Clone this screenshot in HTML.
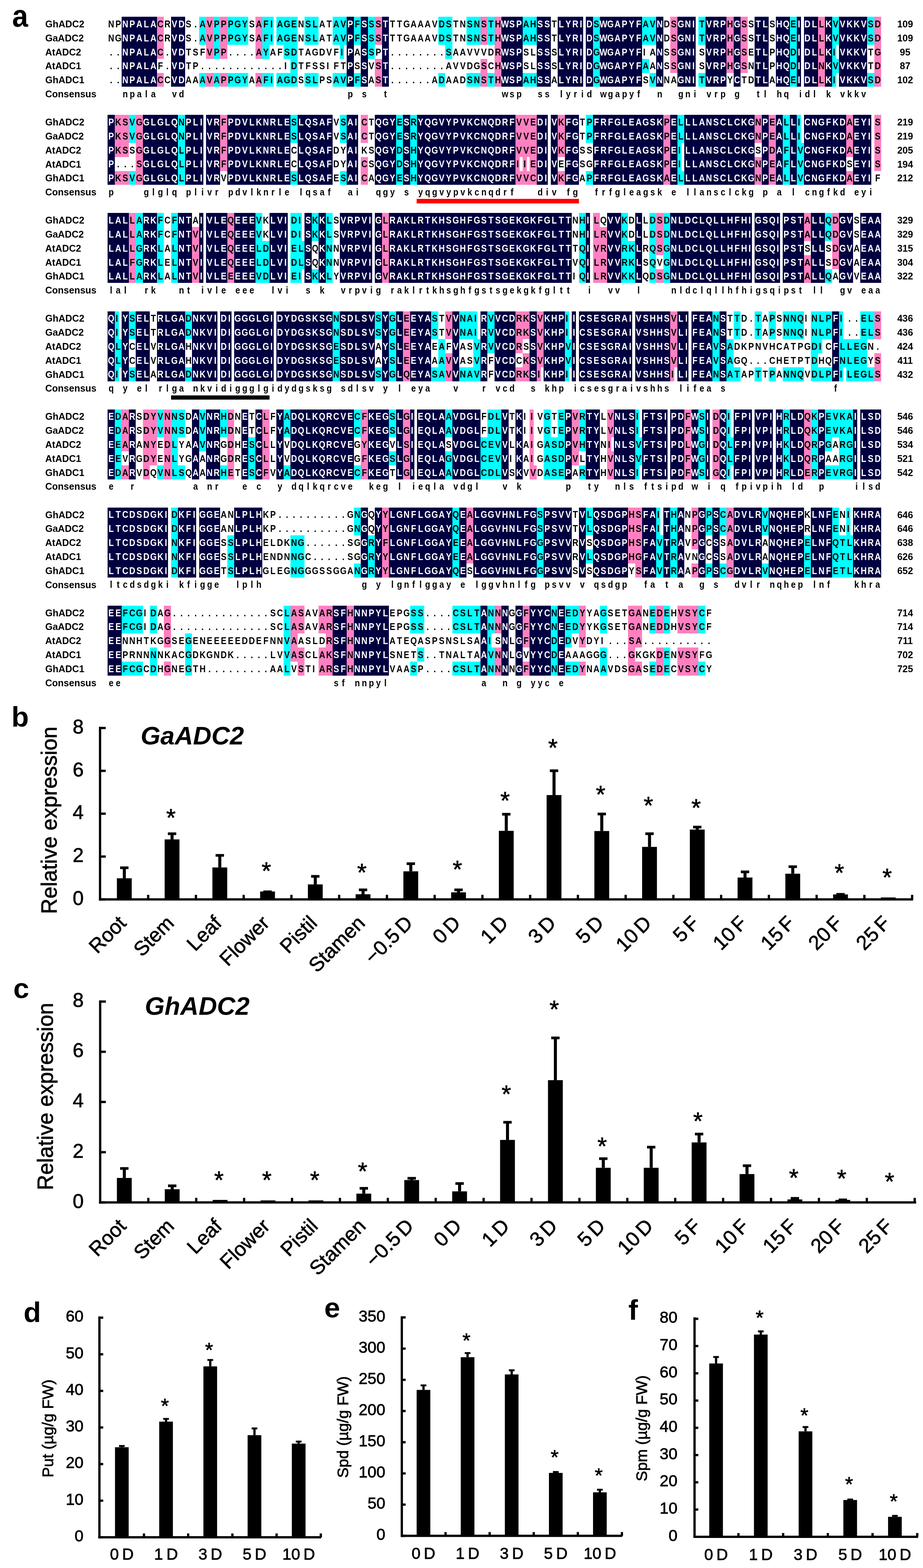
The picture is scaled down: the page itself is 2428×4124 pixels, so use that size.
<!DOCTYPE html><html><head><meta charset="utf-8"><title>ADC figure</title><style>html,body{margin:0;padding:0;background:#fff}svg{display:block}</style></head><body>
<svg width="2428" height="4124" viewBox="0 0 2428 4124">
<rect width="100%" height="100%" fill="#fff"/>
<g id="aln">
<g fill="#000040" shape-rendering="crispEdges">
<rect x="320" y="44" width="93" height="37"/>
<rect x="450" y="44" width="37" height="37"/>
<rect x="912" y="44" width="19" height="37"/>
<rect x="949" y="44" width="19" height="37"/>
<rect x="1005" y="44" width="18" height="37"/>
<rect x="1319" y="44" width="56" height="37"/>
<rect x="1412" y="44" width="37" height="37"/>
<rect x="1467" y="44" width="67" height="37"/>
<rect x="1541" y="44" width="19" height="37"/>
<rect x="1578" y="44" width="111" height="37"/>
<rect x="1726" y="44" width="19" height="37"/>
<rect x="1782" y="44" width="48" height="37"/>
<rect x="1856" y="44" width="55" height="37"/>
<rect x="1930" y="44" width="18" height="37"/>
<rect x="1985" y="44" width="37" height="37"/>
<rect x="2041" y="44" width="37" height="37"/>
<rect x="2096" y="44" width="11" height="37"/>
<rect x="2115" y="44" width="37" height="37"/>
<rect x="2170" y="44" width="19" height="37"/>
<rect x="2207" y="44" width="74" height="37"/>
<rect x="320" y="81" width="93" height="37"/>
<rect x="450" y="81" width="37" height="37"/>
<rect x="912" y="81" width="19" height="37"/>
<rect x="949" y="81" width="19" height="37"/>
<rect x="1005" y="81" width="18" height="37"/>
<rect x="1319" y="81" width="56" height="37"/>
<rect x="1412" y="81" width="37" height="37"/>
<rect x="1467" y="81" width="67" height="37"/>
<rect x="1541" y="81" width="19" height="37"/>
<rect x="1578" y="81" width="111" height="37"/>
<rect x="1726" y="81" width="19" height="37"/>
<rect x="1782" y="81" width="48" height="37"/>
<rect x="1856" y="81" width="55" height="37"/>
<rect x="1930" y="81" width="18" height="37"/>
<rect x="1985" y="81" width="37" height="37"/>
<rect x="2041" y="81" width="37" height="37"/>
<rect x="2096" y="81" width="11" height="37"/>
<rect x="2115" y="81" width="37" height="37"/>
<rect x="2170" y="81" width="19" height="37"/>
<rect x="2207" y="81" width="74" height="37"/>
<rect x="320" y="118" width="93" height="37"/>
<rect x="450" y="118" width="37" height="37"/>
<rect x="912" y="118" width="19" height="37"/>
<rect x="949" y="118" width="19" height="37"/>
<rect x="1005" y="118" width="18" height="37"/>
<rect x="1319" y="118" width="56" height="37"/>
<rect x="1412" y="118" width="37" height="37"/>
<rect x="1467" y="118" width="67" height="37"/>
<rect x="1541" y="118" width="19" height="37"/>
<rect x="1578" y="118" width="111" height="37"/>
<rect x="1726" y="118" width="19" height="37"/>
<rect x="1782" y="118" width="48" height="37"/>
<rect x="1856" y="118" width="55" height="37"/>
<rect x="1930" y="118" width="18" height="37"/>
<rect x="1985" y="118" width="37" height="37"/>
<rect x="2041" y="118" width="37" height="37"/>
<rect x="2096" y="118" width="11" height="37"/>
<rect x="2115" y="118" width="37" height="37"/>
<rect x="2170" y="118" width="19" height="37"/>
<rect x="2207" y="118" width="74" height="37"/>
<rect x="320" y="155" width="93" height="37"/>
<rect x="450" y="155" width="37" height="37"/>
<rect x="912" y="155" width="19" height="37"/>
<rect x="949" y="155" width="19" height="37"/>
<rect x="1005" y="155" width="18" height="37"/>
<rect x="1319" y="155" width="56" height="37"/>
<rect x="1412" y="155" width="37" height="37"/>
<rect x="1467" y="155" width="67" height="37"/>
<rect x="1541" y="155" width="19" height="37"/>
<rect x="1578" y="155" width="111" height="37"/>
<rect x="1726" y="155" width="19" height="37"/>
<rect x="1782" y="155" width="48" height="37"/>
<rect x="1856" y="155" width="55" height="37"/>
<rect x="1930" y="155" width="18" height="37"/>
<rect x="1985" y="155" width="37" height="37"/>
<rect x="2041" y="155" width="37" height="37"/>
<rect x="2096" y="155" width="11" height="37"/>
<rect x="2115" y="155" width="37" height="37"/>
<rect x="2170" y="155" width="19" height="37"/>
<rect x="2207" y="155" width="74" height="37"/>
<rect x="320" y="192" width="93" height="36"/>
<rect x="450" y="192" width="37" height="36"/>
<rect x="912" y="192" width="19" height="36"/>
<rect x="949" y="192" width="19" height="36"/>
<rect x="1005" y="192" width="18" height="36"/>
<rect x="1319" y="192" width="56" height="36"/>
<rect x="1412" y="192" width="37" height="36"/>
<rect x="1467" y="192" width="67" height="36"/>
<rect x="1541" y="192" width="19" height="36"/>
<rect x="1578" y="192" width="111" height="36"/>
<rect x="1726" y="192" width="19" height="36"/>
<rect x="1782" y="192" width="48" height="36"/>
<rect x="1856" y="192" width="55" height="36"/>
<rect x="1930" y="192" width="18" height="36"/>
<rect x="1985" y="192" width="37" height="36"/>
<rect x="2041" y="192" width="37" height="36"/>
<rect x="2096" y="192" width="11" height="36"/>
<rect x="2115" y="192" width="37" height="36"/>
<rect x="2170" y="192" width="19" height="36"/>
<rect x="2207" y="192" width="74" height="36"/>
<rect x="283" y="302" width="19" height="37"/>
<rect x="376" y="302" width="92" height="37"/>
<rect x="487" y="302" width="48" height="37"/>
<rect x="542" y="302" width="37" height="37"/>
<rect x="598" y="302" width="166" height="37"/>
<rect x="783" y="302" width="92" height="37"/>
<rect x="912" y="302" width="30" height="37"/>
<rect x="986" y="302" width="56" height="37"/>
<rect x="1060" y="302" width="19" height="37"/>
<rect x="1097" y="302" width="259" height="37"/>
<rect x="1412" y="302" width="29" height="37"/>
<rect x="1449" y="302" width="18" height="37"/>
<rect x="1486" y="302" width="37" height="37"/>
<rect x="1560" y="302" width="185" height="37"/>
<rect x="1763" y="302" width="19" height="37"/>
<rect x="1800" y="302" width="185" height="37"/>
<rect x="2004" y="302" width="18" height="37"/>
<rect x="2041" y="302" width="18" height="37"/>
<rect x="2078" y="302" width="18" height="37"/>
<rect x="2115" y="302" width="111" height="37"/>
<rect x="2244" y="302" width="48" height="37"/>
<rect x="283" y="339" width="19" height="37"/>
<rect x="376" y="339" width="92" height="37"/>
<rect x="487" y="339" width="48" height="37"/>
<rect x="542" y="339" width="37" height="37"/>
<rect x="598" y="339" width="166" height="37"/>
<rect x="783" y="339" width="92" height="37"/>
<rect x="912" y="339" width="30" height="37"/>
<rect x="986" y="339" width="56" height="37"/>
<rect x="1060" y="339" width="19" height="37"/>
<rect x="1097" y="339" width="259" height="37"/>
<rect x="1412" y="339" width="29" height="37"/>
<rect x="1449" y="339" width="18" height="37"/>
<rect x="1486" y="339" width="37" height="37"/>
<rect x="1560" y="339" width="185" height="37"/>
<rect x="1763" y="339" width="19" height="37"/>
<rect x="1800" y="339" width="185" height="37"/>
<rect x="2004" y="339" width="18" height="37"/>
<rect x="2041" y="339" width="18" height="37"/>
<rect x="2078" y="339" width="18" height="37"/>
<rect x="2115" y="339" width="111" height="37"/>
<rect x="2244" y="339" width="48" height="37"/>
<rect x="283" y="376" width="19" height="37"/>
<rect x="376" y="376" width="92" height="37"/>
<rect x="487" y="376" width="48" height="37"/>
<rect x="542" y="376" width="37" height="37"/>
<rect x="598" y="376" width="166" height="37"/>
<rect x="783" y="376" width="92" height="37"/>
<rect x="912" y="376" width="30" height="37"/>
<rect x="986" y="376" width="56" height="37"/>
<rect x="1060" y="376" width="19" height="37"/>
<rect x="1097" y="376" width="259" height="37"/>
<rect x="1412" y="376" width="29" height="37"/>
<rect x="1449" y="376" width="18" height="37"/>
<rect x="1486" y="376" width="37" height="37"/>
<rect x="1560" y="376" width="185" height="37"/>
<rect x="1763" y="376" width="19" height="37"/>
<rect x="1800" y="376" width="185" height="37"/>
<rect x="2004" y="376" width="18" height="37"/>
<rect x="2041" y="376" width="18" height="37"/>
<rect x="2078" y="376" width="18" height="37"/>
<rect x="2115" y="376" width="111" height="37"/>
<rect x="2244" y="376" width="48" height="37"/>
<rect x="283" y="413" width="19" height="37"/>
<rect x="376" y="413" width="92" height="37"/>
<rect x="487" y="413" width="48" height="37"/>
<rect x="542" y="413" width="37" height="37"/>
<rect x="598" y="413" width="166" height="37"/>
<rect x="783" y="413" width="92" height="37"/>
<rect x="912" y="413" width="30" height="37"/>
<rect x="986" y="413" width="56" height="37"/>
<rect x="1060" y="413" width="19" height="37"/>
<rect x="1097" y="413" width="259" height="37"/>
<rect x="1412" y="413" width="29" height="37"/>
<rect x="1449" y="413" width="18" height="37"/>
<rect x="1486" y="413" width="37" height="37"/>
<rect x="1560" y="413" width="185" height="37"/>
<rect x="1763" y="413" width="19" height="37"/>
<rect x="1800" y="413" width="185" height="37"/>
<rect x="2004" y="413" width="18" height="37"/>
<rect x="2041" y="413" width="18" height="37"/>
<rect x="2078" y="413" width="18" height="37"/>
<rect x="2115" y="413" width="111" height="37"/>
<rect x="2244" y="413" width="48" height="37"/>
<rect x="283" y="450" width="19" height="36"/>
<rect x="376" y="450" width="92" height="36"/>
<rect x="487" y="450" width="48" height="36"/>
<rect x="542" y="450" width="37" height="36"/>
<rect x="598" y="450" width="166" height="36"/>
<rect x="783" y="450" width="92" height="36"/>
<rect x="912" y="450" width="30" height="36"/>
<rect x="986" y="450" width="56" height="36"/>
<rect x="1060" y="450" width="19" height="36"/>
<rect x="1097" y="450" width="259" height="36"/>
<rect x="1412" y="450" width="29" height="36"/>
<rect x="1449" y="450" width="18" height="36"/>
<rect x="1486" y="450" width="37" height="36"/>
<rect x="1560" y="450" width="185" height="36"/>
<rect x="1763" y="450" width="19" height="36"/>
<rect x="1800" y="450" width="185" height="36"/>
<rect x="2004" y="450" width="18" height="36"/>
<rect x="2041" y="450" width="18" height="36"/>
<rect x="2078" y="450" width="18" height="36"/>
<rect x="2115" y="450" width="111" height="36"/>
<rect x="2244" y="450" width="48" height="36"/>
<rect x="283" y="560" width="56" height="37"/>
<rect x="376" y="560" width="37" height="37"/>
<rect x="468" y="560" width="37" height="37"/>
<rect x="524" y="560" width="11" height="37"/>
<rect x="542" y="560" width="56" height="37"/>
<rect x="616" y="560" width="56" height="37"/>
<rect x="709" y="560" width="48" height="37"/>
<rect x="801" y="560" width="19" height="37"/>
<rect x="838" y="560" width="19" height="37"/>
<rect x="894" y="560" width="85" height="37"/>
<rect x="986" y="560" width="19" height="37"/>
<rect x="1023" y="560" width="481" height="37"/>
<rect x="1541" y="560" width="11" height="37"/>
<rect x="1597" y="560" width="37" height="37"/>
<rect x="1671" y="560" width="18" height="37"/>
<rect x="1763" y="560" width="215" height="37"/>
<rect x="1985" y="560" width="67" height="37"/>
<rect x="2059" y="560" width="56" height="37"/>
<rect x="2133" y="560" width="37" height="37"/>
<rect x="2207" y="560" width="37" height="37"/>
<rect x="2263" y="560" width="55" height="37"/>
<rect x="283" y="597" width="56" height="37"/>
<rect x="376" y="597" width="37" height="37"/>
<rect x="468" y="597" width="37" height="37"/>
<rect x="524" y="597" width="11" height="37"/>
<rect x="542" y="597" width="56" height="37"/>
<rect x="616" y="597" width="56" height="37"/>
<rect x="709" y="597" width="48" height="37"/>
<rect x="801" y="597" width="19" height="37"/>
<rect x="838" y="597" width="19" height="37"/>
<rect x="894" y="597" width="85" height="37"/>
<rect x="986" y="597" width="19" height="37"/>
<rect x="1023" y="597" width="481" height="37"/>
<rect x="1541" y="597" width="11" height="37"/>
<rect x="1597" y="597" width="37" height="37"/>
<rect x="1671" y="597" width="18" height="37"/>
<rect x="1763" y="597" width="215" height="37"/>
<rect x="1985" y="597" width="67" height="37"/>
<rect x="2059" y="597" width="56" height="37"/>
<rect x="2133" y="597" width="37" height="37"/>
<rect x="2207" y="597" width="37" height="37"/>
<rect x="2263" y="597" width="55" height="37"/>
<rect x="283" y="634" width="56" height="37"/>
<rect x="376" y="634" width="37" height="37"/>
<rect x="468" y="634" width="37" height="37"/>
<rect x="524" y="634" width="11" height="37"/>
<rect x="542" y="634" width="56" height="37"/>
<rect x="616" y="634" width="56" height="37"/>
<rect x="709" y="634" width="48" height="37"/>
<rect x="801" y="634" width="19" height="37"/>
<rect x="838" y="634" width="19" height="37"/>
<rect x="894" y="634" width="85" height="37"/>
<rect x="986" y="634" width="19" height="37"/>
<rect x="1023" y="634" width="481" height="37"/>
<rect x="1541" y="634" width="11" height="37"/>
<rect x="1597" y="634" width="37" height="37"/>
<rect x="1671" y="634" width="18" height="37"/>
<rect x="1763" y="634" width="215" height="37"/>
<rect x="1985" y="634" width="67" height="37"/>
<rect x="2059" y="634" width="56" height="37"/>
<rect x="2133" y="634" width="37" height="37"/>
<rect x="2207" y="634" width="37" height="37"/>
<rect x="2263" y="634" width="55" height="37"/>
<rect x="283" y="671" width="56" height="37"/>
<rect x="376" y="671" width="37" height="37"/>
<rect x="468" y="671" width="37" height="37"/>
<rect x="524" y="671" width="11" height="37"/>
<rect x="542" y="671" width="56" height="37"/>
<rect x="616" y="671" width="56" height="37"/>
<rect x="709" y="671" width="48" height="37"/>
<rect x="801" y="671" width="19" height="37"/>
<rect x="838" y="671" width="19" height="37"/>
<rect x="894" y="671" width="85" height="37"/>
<rect x="986" y="671" width="19" height="37"/>
<rect x="1023" y="671" width="481" height="37"/>
<rect x="1541" y="671" width="11" height="37"/>
<rect x="1597" y="671" width="37" height="37"/>
<rect x="1671" y="671" width="18" height="37"/>
<rect x="1763" y="671" width="215" height="37"/>
<rect x="1985" y="671" width="67" height="37"/>
<rect x="2059" y="671" width="56" height="37"/>
<rect x="2133" y="671" width="37" height="37"/>
<rect x="2207" y="671" width="37" height="37"/>
<rect x="2263" y="671" width="55" height="37"/>
<rect x="283" y="708" width="56" height="36"/>
<rect x="376" y="708" width="37" height="36"/>
<rect x="468" y="708" width="37" height="36"/>
<rect x="524" y="708" width="11" height="36"/>
<rect x="542" y="708" width="56" height="36"/>
<rect x="616" y="708" width="56" height="36"/>
<rect x="709" y="708" width="48" height="36"/>
<rect x="801" y="708" width="19" height="36"/>
<rect x="838" y="708" width="19" height="36"/>
<rect x="894" y="708" width="85" height="36"/>
<rect x="986" y="708" width="19" height="36"/>
<rect x="1023" y="708" width="481" height="36"/>
<rect x="1541" y="708" width="11" height="36"/>
<rect x="1597" y="708" width="37" height="36"/>
<rect x="1671" y="708" width="18" height="36"/>
<rect x="1763" y="708" width="215" height="36"/>
<rect x="1985" y="708" width="67" height="36"/>
<rect x="2059" y="708" width="56" height="36"/>
<rect x="2133" y="708" width="37" height="36"/>
<rect x="2207" y="708" width="37" height="36"/>
<rect x="2263" y="708" width="55" height="36"/>
<rect x="283" y="819" width="19" height="36"/>
<rect x="320" y="819" width="19" height="36"/>
<rect x="357" y="819" width="37" height="36"/>
<rect x="413" y="819" width="74" height="36"/>
<rect x="505" y="819" width="67" height="36"/>
<rect x="579" y="819" width="30" height="36"/>
<rect x="616" y="819" width="104" height="36"/>
<rect x="727" y="819" width="148" height="36"/>
<rect x="894" y="819" width="92" height="36"/>
<rect x="1005" y="819" width="18" height="36"/>
<rect x="1042" y="819" width="18" height="36"/>
<rect x="1079" y="819" width="55" height="36"/>
<rect x="1190" y="819" width="18" height="36"/>
<rect x="1264" y="819" width="18" height="36"/>
<rect x="1301" y="819" width="55" height="36"/>
<rect x="1393" y="819" width="19" height="36"/>
<rect x="1430" y="819" width="56" height="36"/>
<rect x="1504" y="819" width="11" height="36"/>
<rect x="1523" y="819" width="140" height="36"/>
<rect x="1671" y="819" width="92" height="36"/>
<rect x="1782" y="819" width="29" height="36"/>
<rect x="1819" y="819" width="55" height="36"/>
<rect x="1893" y="819" width="18" height="36"/>
<rect x="2189" y="819" width="18" height="36"/>
<rect x="283" y="855" width="19" height="37"/>
<rect x="320" y="855" width="19" height="37"/>
<rect x="357" y="855" width="37" height="37"/>
<rect x="413" y="855" width="74" height="37"/>
<rect x="505" y="855" width="67" height="37"/>
<rect x="579" y="855" width="30" height="37"/>
<rect x="616" y="855" width="104" height="37"/>
<rect x="727" y="855" width="148" height="37"/>
<rect x="894" y="855" width="92" height="37"/>
<rect x="1005" y="855" width="18" height="37"/>
<rect x="1042" y="855" width="18" height="37"/>
<rect x="1079" y="855" width="55" height="37"/>
<rect x="1190" y="855" width="18" height="37"/>
<rect x="1264" y="855" width="18" height="37"/>
<rect x="1301" y="855" width="55" height="37"/>
<rect x="1393" y="855" width="19" height="37"/>
<rect x="1430" y="855" width="56" height="37"/>
<rect x="1504" y="855" width="11" height="37"/>
<rect x="1523" y="855" width="140" height="37"/>
<rect x="1671" y="855" width="92" height="37"/>
<rect x="1782" y="855" width="29" height="37"/>
<rect x="1819" y="855" width="55" height="37"/>
<rect x="1893" y="855" width="18" height="37"/>
<rect x="2189" y="855" width="18" height="37"/>
<rect x="283" y="892" width="19" height="37"/>
<rect x="320" y="892" width="19" height="37"/>
<rect x="357" y="892" width="37" height="37"/>
<rect x="413" y="892" width="74" height="37"/>
<rect x="505" y="892" width="67" height="37"/>
<rect x="579" y="892" width="30" height="37"/>
<rect x="616" y="892" width="104" height="37"/>
<rect x="727" y="892" width="148" height="37"/>
<rect x="894" y="892" width="92" height="37"/>
<rect x="1005" y="892" width="18" height="37"/>
<rect x="1042" y="892" width="18" height="37"/>
<rect x="1079" y="892" width="55" height="37"/>
<rect x="1190" y="892" width="18" height="37"/>
<rect x="1264" y="892" width="18" height="37"/>
<rect x="1301" y="892" width="55" height="37"/>
<rect x="1393" y="892" width="19" height="37"/>
<rect x="1430" y="892" width="56" height="37"/>
<rect x="1504" y="892" width="11" height="37"/>
<rect x="1523" y="892" width="140" height="37"/>
<rect x="1671" y="892" width="92" height="37"/>
<rect x="1782" y="892" width="29" height="37"/>
<rect x="1819" y="892" width="55" height="37"/>
<rect x="1893" y="892" width="18" height="37"/>
<rect x="2189" y="892" width="18" height="37"/>
<rect x="283" y="929" width="19" height="37"/>
<rect x="320" y="929" width="19" height="37"/>
<rect x="357" y="929" width="37" height="37"/>
<rect x="413" y="929" width="74" height="37"/>
<rect x="505" y="929" width="67" height="37"/>
<rect x="579" y="929" width="30" height="37"/>
<rect x="616" y="929" width="104" height="37"/>
<rect x="727" y="929" width="148" height="37"/>
<rect x="894" y="929" width="92" height="37"/>
<rect x="1005" y="929" width="18" height="37"/>
<rect x="1042" y="929" width="18" height="37"/>
<rect x="1079" y="929" width="55" height="37"/>
<rect x="1190" y="929" width="18" height="37"/>
<rect x="1264" y="929" width="18" height="37"/>
<rect x="1301" y="929" width="55" height="37"/>
<rect x="1393" y="929" width="19" height="37"/>
<rect x="1430" y="929" width="56" height="37"/>
<rect x="1504" y="929" width="11" height="37"/>
<rect x="1523" y="929" width="140" height="37"/>
<rect x="1671" y="929" width="92" height="37"/>
<rect x="1782" y="929" width="29" height="37"/>
<rect x="1819" y="929" width="55" height="37"/>
<rect x="1893" y="929" width="18" height="37"/>
<rect x="2189" y="929" width="18" height="37"/>
<rect x="283" y="966" width="19" height="37"/>
<rect x="320" y="966" width="19" height="37"/>
<rect x="357" y="966" width="37" height="37"/>
<rect x="413" y="966" width="74" height="37"/>
<rect x="505" y="966" width="67" height="37"/>
<rect x="579" y="966" width="30" height="37"/>
<rect x="616" y="966" width="104" height="37"/>
<rect x="727" y="966" width="148" height="37"/>
<rect x="894" y="966" width="92" height="37"/>
<rect x="1005" y="966" width="18" height="37"/>
<rect x="1042" y="966" width="18" height="37"/>
<rect x="1079" y="966" width="55" height="37"/>
<rect x="1190" y="966" width="18" height="37"/>
<rect x="1264" y="966" width="18" height="37"/>
<rect x="1301" y="966" width="55" height="37"/>
<rect x="1393" y="966" width="19" height="37"/>
<rect x="1430" y="966" width="56" height="37"/>
<rect x="1504" y="966" width="11" height="37"/>
<rect x="1523" y="966" width="140" height="37"/>
<rect x="1671" y="966" width="92" height="37"/>
<rect x="1782" y="966" width="29" height="37"/>
<rect x="1819" y="966" width="55" height="37"/>
<rect x="1893" y="966" width="18" height="37"/>
<rect x="2189" y="966" width="18" height="37"/>
<rect x="283" y="1077" width="19" height="37"/>
<rect x="339" y="1077" width="18" height="37"/>
<rect x="505" y="1077" width="19" height="37"/>
<rect x="542" y="1077" width="37" height="37"/>
<rect x="635" y="1077" width="18" height="37"/>
<rect x="672" y="1077" width="18" height="37"/>
<rect x="727" y="1077" width="19" height="37"/>
<rect x="764" y="1077" width="167" height="37"/>
<rect x="968" y="1077" width="55" height="37"/>
<rect x="1042" y="1077" width="18" height="37"/>
<rect x="1079" y="1077" width="11" height="37"/>
<rect x="1097" y="1077" width="74" height="37"/>
<rect x="1190" y="1077" width="74" height="37"/>
<rect x="1319" y="1077" width="19" height="37"/>
<rect x="1356" y="1077" width="19" height="37"/>
<rect x="1486" y="1077" width="18" height="37"/>
<rect x="1541" y="1077" width="37" height="37"/>
<rect x="1615" y="1077" width="56" height="37"/>
<rect x="1689" y="1077" width="67" height="37"/>
<rect x="1763" y="1077" width="37" height="37"/>
<rect x="1819" y="1077" width="18" height="37"/>
<rect x="1856" y="1077" width="11" height="37"/>
<rect x="1893" y="1077" width="18" height="37"/>
<rect x="1930" y="1077" width="48" height="37"/>
<rect x="1985" y="1077" width="48" height="37"/>
<rect x="2041" y="1077" width="18" height="37"/>
<rect x="2078" y="1077" width="37" height="37"/>
<rect x="2152" y="1077" width="18" height="37"/>
<rect x="2244" y="1077" width="11" height="37"/>
<rect x="2263" y="1077" width="55" height="37"/>
<rect x="283" y="1114" width="19" height="36"/>
<rect x="339" y="1114" width="18" height="36"/>
<rect x="505" y="1114" width="19" height="36"/>
<rect x="542" y="1114" width="37" height="36"/>
<rect x="635" y="1114" width="18" height="36"/>
<rect x="672" y="1114" width="18" height="36"/>
<rect x="727" y="1114" width="19" height="36"/>
<rect x="764" y="1114" width="167" height="36"/>
<rect x="968" y="1114" width="55" height="36"/>
<rect x="1042" y="1114" width="18" height="36"/>
<rect x="1079" y="1114" width="11" height="36"/>
<rect x="1097" y="1114" width="74" height="36"/>
<rect x="1190" y="1114" width="74" height="36"/>
<rect x="1319" y="1114" width="19" height="36"/>
<rect x="1356" y="1114" width="19" height="36"/>
<rect x="1486" y="1114" width="18" height="36"/>
<rect x="1541" y="1114" width="37" height="36"/>
<rect x="1615" y="1114" width="56" height="36"/>
<rect x="1689" y="1114" width="67" height="36"/>
<rect x="1763" y="1114" width="37" height="36"/>
<rect x="1819" y="1114" width="18" height="36"/>
<rect x="1856" y="1114" width="11" height="36"/>
<rect x="1893" y="1114" width="18" height="36"/>
<rect x="1930" y="1114" width="48" height="36"/>
<rect x="1985" y="1114" width="48" height="36"/>
<rect x="2041" y="1114" width="18" height="36"/>
<rect x="2078" y="1114" width="37" height="36"/>
<rect x="2152" y="1114" width="18" height="36"/>
<rect x="2244" y="1114" width="11" height="36"/>
<rect x="2263" y="1114" width="55" height="36"/>
<rect x="283" y="1150" width="19" height="37"/>
<rect x="339" y="1150" width="18" height="37"/>
<rect x="505" y="1150" width="19" height="37"/>
<rect x="542" y="1150" width="37" height="37"/>
<rect x="635" y="1150" width="18" height="37"/>
<rect x="672" y="1150" width="18" height="37"/>
<rect x="727" y="1150" width="19" height="37"/>
<rect x="764" y="1150" width="167" height="37"/>
<rect x="968" y="1150" width="55" height="37"/>
<rect x="1042" y="1150" width="18" height="37"/>
<rect x="1079" y="1150" width="11" height="37"/>
<rect x="1097" y="1150" width="74" height="37"/>
<rect x="1190" y="1150" width="74" height="37"/>
<rect x="1319" y="1150" width="19" height="37"/>
<rect x="1356" y="1150" width="19" height="37"/>
<rect x="1486" y="1150" width="18" height="37"/>
<rect x="1541" y="1150" width="37" height="37"/>
<rect x="1615" y="1150" width="56" height="37"/>
<rect x="1689" y="1150" width="67" height="37"/>
<rect x="1763" y="1150" width="37" height="37"/>
<rect x="1819" y="1150" width="18" height="37"/>
<rect x="1856" y="1150" width="11" height="37"/>
<rect x="1893" y="1150" width="18" height="37"/>
<rect x="1930" y="1150" width="48" height="37"/>
<rect x="1985" y="1150" width="48" height="37"/>
<rect x="2041" y="1150" width="18" height="37"/>
<rect x="2078" y="1150" width="37" height="37"/>
<rect x="2152" y="1150" width="18" height="37"/>
<rect x="2244" y="1150" width="11" height="37"/>
<rect x="2263" y="1150" width="55" height="37"/>
<rect x="283" y="1187" width="19" height="37"/>
<rect x="339" y="1187" width="18" height="37"/>
<rect x="505" y="1187" width="19" height="37"/>
<rect x="542" y="1187" width="37" height="37"/>
<rect x="635" y="1187" width="18" height="37"/>
<rect x="672" y="1187" width="18" height="37"/>
<rect x="727" y="1187" width="19" height="37"/>
<rect x="764" y="1187" width="167" height="37"/>
<rect x="968" y="1187" width="55" height="37"/>
<rect x="1042" y="1187" width="18" height="37"/>
<rect x="1079" y="1187" width="11" height="37"/>
<rect x="1097" y="1187" width="74" height="37"/>
<rect x="1190" y="1187" width="74" height="37"/>
<rect x="1319" y="1187" width="19" height="37"/>
<rect x="1356" y="1187" width="19" height="37"/>
<rect x="1486" y="1187" width="18" height="37"/>
<rect x="1541" y="1187" width="37" height="37"/>
<rect x="1615" y="1187" width="56" height="37"/>
<rect x="1689" y="1187" width="67" height="37"/>
<rect x="1763" y="1187" width="37" height="37"/>
<rect x="1819" y="1187" width="18" height="37"/>
<rect x="1856" y="1187" width="11" height="37"/>
<rect x="1893" y="1187" width="18" height="37"/>
<rect x="1930" y="1187" width="48" height="37"/>
<rect x="1985" y="1187" width="48" height="37"/>
<rect x="2041" y="1187" width="18" height="37"/>
<rect x="2078" y="1187" width="37" height="37"/>
<rect x="2152" y="1187" width="18" height="37"/>
<rect x="2244" y="1187" width="11" height="37"/>
<rect x="2263" y="1187" width="55" height="37"/>
<rect x="283" y="1224" width="19" height="37"/>
<rect x="339" y="1224" width="18" height="37"/>
<rect x="505" y="1224" width="19" height="37"/>
<rect x="542" y="1224" width="37" height="37"/>
<rect x="635" y="1224" width="18" height="37"/>
<rect x="672" y="1224" width="18" height="37"/>
<rect x="727" y="1224" width="19" height="37"/>
<rect x="764" y="1224" width="167" height="37"/>
<rect x="968" y="1224" width="55" height="37"/>
<rect x="1042" y="1224" width="18" height="37"/>
<rect x="1079" y="1224" width="11" height="37"/>
<rect x="1097" y="1224" width="74" height="37"/>
<rect x="1190" y="1224" width="74" height="37"/>
<rect x="1319" y="1224" width="19" height="37"/>
<rect x="1356" y="1224" width="19" height="37"/>
<rect x="1486" y="1224" width="18" height="37"/>
<rect x="1541" y="1224" width="37" height="37"/>
<rect x="1615" y="1224" width="56" height="37"/>
<rect x="1689" y="1224" width="67" height="37"/>
<rect x="1763" y="1224" width="37" height="37"/>
<rect x="1819" y="1224" width="18" height="37"/>
<rect x="1856" y="1224" width="11" height="37"/>
<rect x="1893" y="1224" width="18" height="37"/>
<rect x="1930" y="1224" width="48" height="37"/>
<rect x="1985" y="1224" width="48" height="37"/>
<rect x="2041" y="1224" width="18" height="37"/>
<rect x="2078" y="1224" width="37" height="37"/>
<rect x="2152" y="1224" width="18" height="37"/>
<rect x="2244" y="1224" width="11" height="37"/>
<rect x="2263" y="1224" width="55" height="37"/>
<rect x="283" y="1335" width="159" height="37"/>
<rect x="468" y="1335" width="48" height="37"/>
<rect x="524" y="1335" width="55" height="37"/>
<rect x="616" y="1335" width="74" height="37"/>
<rect x="949" y="1335" width="19" height="37"/>
<rect x="986" y="1335" width="19" height="37"/>
<rect x="1023" y="1335" width="167" height="37"/>
<rect x="1208" y="1335" width="19" height="37"/>
<rect x="1245" y="1335" width="167" height="37"/>
<rect x="1430" y="1335" width="74" height="37"/>
<rect x="1523" y="1335" width="18" height="37"/>
<rect x="1560" y="1335" width="92" height="37"/>
<rect x="1689" y="1335" width="37" height="37"/>
<rect x="1745" y="1335" width="18" height="37"/>
<rect x="1782" y="1335" width="18" height="37"/>
<rect x="1837" y="1335" width="19" height="37"/>
<rect x="1874" y="1335" width="19" height="37"/>
<rect x="1930" y="1335" width="74" height="37"/>
<rect x="2022" y="1335" width="93" height="37"/>
<rect x="2133" y="1335" width="56" height="37"/>
<rect x="2244" y="1335" width="74" height="37"/>
<rect x="283" y="1372" width="159" height="36"/>
<rect x="468" y="1372" width="48" height="36"/>
<rect x="524" y="1372" width="55" height="36"/>
<rect x="616" y="1372" width="74" height="36"/>
<rect x="949" y="1372" width="19" height="36"/>
<rect x="986" y="1372" width="19" height="36"/>
<rect x="1023" y="1372" width="167" height="36"/>
<rect x="1208" y="1372" width="19" height="36"/>
<rect x="1245" y="1372" width="167" height="36"/>
<rect x="1430" y="1372" width="74" height="36"/>
<rect x="1523" y="1372" width="18" height="36"/>
<rect x="1560" y="1372" width="92" height="36"/>
<rect x="1689" y="1372" width="37" height="36"/>
<rect x="1745" y="1372" width="18" height="36"/>
<rect x="1782" y="1372" width="18" height="36"/>
<rect x="1837" y="1372" width="19" height="36"/>
<rect x="1874" y="1372" width="19" height="36"/>
<rect x="1930" y="1372" width="74" height="36"/>
<rect x="2022" y="1372" width="93" height="36"/>
<rect x="2133" y="1372" width="56" height="36"/>
<rect x="2244" y="1372" width="74" height="36"/>
<rect x="283" y="1408" width="159" height="37"/>
<rect x="468" y="1408" width="48" height="37"/>
<rect x="524" y="1408" width="55" height="37"/>
<rect x="616" y="1408" width="74" height="37"/>
<rect x="949" y="1408" width="19" height="37"/>
<rect x="986" y="1408" width="19" height="37"/>
<rect x="1023" y="1408" width="167" height="37"/>
<rect x="1208" y="1408" width="19" height="37"/>
<rect x="1245" y="1408" width="167" height="37"/>
<rect x="1430" y="1408" width="74" height="37"/>
<rect x="1523" y="1408" width="18" height="37"/>
<rect x="1560" y="1408" width="92" height="37"/>
<rect x="1689" y="1408" width="37" height="37"/>
<rect x="1745" y="1408" width="18" height="37"/>
<rect x="1782" y="1408" width="18" height="37"/>
<rect x="1837" y="1408" width="19" height="37"/>
<rect x="1874" y="1408" width="19" height="37"/>
<rect x="1930" y="1408" width="74" height="37"/>
<rect x="2022" y="1408" width="93" height="37"/>
<rect x="2133" y="1408" width="56" height="37"/>
<rect x="2244" y="1408" width="74" height="37"/>
<rect x="283" y="1445" width="159" height="37"/>
<rect x="468" y="1445" width="48" height="37"/>
<rect x="524" y="1445" width="55" height="37"/>
<rect x="616" y="1445" width="74" height="37"/>
<rect x="949" y="1445" width="19" height="37"/>
<rect x="986" y="1445" width="19" height="37"/>
<rect x="1023" y="1445" width="167" height="37"/>
<rect x="1208" y="1445" width="19" height="37"/>
<rect x="1245" y="1445" width="167" height="37"/>
<rect x="1430" y="1445" width="74" height="37"/>
<rect x="1523" y="1445" width="18" height="37"/>
<rect x="1560" y="1445" width="92" height="37"/>
<rect x="1689" y="1445" width="37" height="37"/>
<rect x="1745" y="1445" width="18" height="37"/>
<rect x="1782" y="1445" width="18" height="37"/>
<rect x="1837" y="1445" width="19" height="37"/>
<rect x="1874" y="1445" width="19" height="37"/>
<rect x="1930" y="1445" width="74" height="37"/>
<rect x="2022" y="1445" width="93" height="37"/>
<rect x="2133" y="1445" width="56" height="37"/>
<rect x="2244" y="1445" width="74" height="37"/>
<rect x="283" y="1482" width="159" height="37"/>
<rect x="468" y="1482" width="48" height="37"/>
<rect x="524" y="1482" width="55" height="37"/>
<rect x="616" y="1482" width="74" height="37"/>
<rect x="949" y="1482" width="19" height="37"/>
<rect x="986" y="1482" width="19" height="37"/>
<rect x="1023" y="1482" width="167" height="37"/>
<rect x="1208" y="1482" width="19" height="37"/>
<rect x="1245" y="1482" width="167" height="37"/>
<rect x="1430" y="1482" width="74" height="37"/>
<rect x="1523" y="1482" width="18" height="37"/>
<rect x="1560" y="1482" width="92" height="37"/>
<rect x="1689" y="1482" width="37" height="37"/>
<rect x="1745" y="1482" width="18" height="37"/>
<rect x="1782" y="1482" width="18" height="37"/>
<rect x="1837" y="1482" width="19" height="37"/>
<rect x="1874" y="1482" width="19" height="37"/>
<rect x="1930" y="1482" width="74" height="37"/>
<rect x="2022" y="1482" width="93" height="37"/>
<rect x="2133" y="1482" width="56" height="37"/>
<rect x="2244" y="1482" width="74" height="37"/>
<rect x="283" y="1593" width="37" height="37"/>
<rect x="875" y="1593" width="37" height="37"/>
<rect x="931" y="1593" width="92" height="37"/>
<rect x="1264" y="1593" width="18" height="37"/>
<rect x="1319" y="1593" width="19" height="37"/>
<rect x="1356" y="1593" width="19" height="37"/>
<rect x="1393" y="1593" width="56" height="37"/>
<rect x="1467" y="1593" width="19" height="37"/>
<rect x="283" y="1630" width="37" height="36"/>
<rect x="875" y="1630" width="37" height="36"/>
<rect x="931" y="1630" width="92" height="36"/>
<rect x="1264" y="1630" width="18" height="36"/>
<rect x="1319" y="1630" width="19" height="36"/>
<rect x="1356" y="1630" width="19" height="36"/>
<rect x="1393" y="1630" width="56" height="36"/>
<rect x="1467" y="1630" width="19" height="36"/>
<rect x="283" y="1666" width="37" height="37"/>
<rect x="875" y="1666" width="37" height="37"/>
<rect x="931" y="1666" width="92" height="37"/>
<rect x="1264" y="1666" width="18" height="37"/>
<rect x="1319" y="1666" width="19" height="37"/>
<rect x="1356" y="1666" width="19" height="37"/>
<rect x="1393" y="1666" width="56" height="37"/>
<rect x="1467" y="1666" width="19" height="37"/>
<rect x="283" y="1703" width="37" height="37"/>
<rect x="875" y="1703" width="37" height="37"/>
<rect x="931" y="1703" width="92" height="37"/>
<rect x="1264" y="1703" width="18" height="37"/>
<rect x="1319" y="1703" width="19" height="37"/>
<rect x="1356" y="1703" width="19" height="37"/>
<rect x="1393" y="1703" width="56" height="37"/>
<rect x="1467" y="1703" width="19" height="37"/>
<rect x="283" y="1740" width="37" height="37"/>
<rect x="875" y="1740" width="37" height="37"/>
<rect x="931" y="1740" width="92" height="37"/>
<rect x="1264" y="1740" width="18" height="37"/>
<rect x="1319" y="1740" width="19" height="37"/>
<rect x="1356" y="1740" width="19" height="37"/>
<rect x="1393" y="1740" width="56" height="37"/>
<rect x="1467" y="1740" width="19" height="37"/>
</g>
<g fill="#00ffff" shape-rendering="crispEdges">
<rect x="524" y="44" width="18" height="37"/>
<rect x="561" y="44" width="18" height="37"/>
<rect x="598" y="44" width="55" height="37"/>
<rect x="690" y="44" width="30" height="37"/>
<rect x="727" y="44" width="56" height="37"/>
<rect x="801" y="44" width="37" height="37"/>
<rect x="875" y="44" width="37" height="37"/>
<rect x="931" y="44" width="18" height="37"/>
<rect x="968" y="44" width="18" height="37"/>
<rect x="1153" y="44" width="37" height="37"/>
<rect x="1227" y="44" width="37" height="37"/>
<rect x="1282" y="44" width="19" height="37"/>
<rect x="1375" y="44" width="37" height="37"/>
<rect x="1560" y="44" width="18" height="37"/>
<rect x="1689" y="44" width="37" height="37"/>
<rect x="1837" y="44" width="19" height="37"/>
<rect x="2078" y="44" width="18" height="37"/>
<rect x="2189" y="44" width="18" height="37"/>
<rect x="2281" y="44" width="19" height="37"/>
<rect x="524" y="81" width="18" height="37"/>
<rect x="561" y="81" width="18" height="37"/>
<rect x="598" y="81" width="55" height="37"/>
<rect x="690" y="81" width="30" height="37"/>
<rect x="727" y="81" width="56" height="37"/>
<rect x="801" y="81" width="37" height="37"/>
<rect x="875" y="81" width="37" height="37"/>
<rect x="931" y="81" width="18" height="37"/>
<rect x="968" y="81" width="18" height="37"/>
<rect x="1153" y="81" width="37" height="37"/>
<rect x="1227" y="81" width="37" height="37"/>
<rect x="1282" y="81" width="19" height="37"/>
<rect x="1375" y="81" width="37" height="37"/>
<rect x="1560" y="81" width="18" height="37"/>
<rect x="1689" y="81" width="37" height="37"/>
<rect x="1837" y="81" width="19" height="37"/>
<rect x="2078" y="81" width="18" height="37"/>
<rect x="2189" y="81" width="18" height="37"/>
<rect x="2281" y="81" width="19" height="37"/>
<rect x="561" y="118" width="18" height="37"/>
<rect x="690" y="118" width="19" height="37"/>
<rect x="746" y="118" width="37" height="37"/>
<rect x="894" y="118" width="11" height="37"/>
<rect x="968" y="118" width="18" height="37"/>
<rect x="1171" y="118" width="19" height="37"/>
<rect x="1560" y="118" width="18" height="37"/>
<rect x="2078" y="118" width="18" height="37"/>
<rect x="2189" y="118" width="11" height="37"/>
<rect x="764" y="155" width="19" height="37"/>
<rect x="1560" y="155" width="18" height="37"/>
<rect x="1689" y="155" width="19" height="37"/>
<rect x="2078" y="155" width="18" height="37"/>
<rect x="2189" y="155" width="18" height="37"/>
<rect x="524" y="192" width="18" height="36"/>
<rect x="561" y="192" width="18" height="36"/>
<rect x="598" y="192" width="55" height="36"/>
<rect x="690" y="192" width="30" height="36"/>
<rect x="727" y="192" width="56" height="36"/>
<rect x="801" y="192" width="37" height="36"/>
<rect x="875" y="192" width="37" height="36"/>
<rect x="931" y="192" width="18" height="36"/>
<rect x="1153" y="192" width="18" height="36"/>
<rect x="1227" y="192" width="37" height="36"/>
<rect x="1282" y="192" width="19" height="36"/>
<rect x="1375" y="192" width="37" height="36"/>
<rect x="1560" y="192" width="18" height="36"/>
<rect x="1708" y="192" width="18" height="36"/>
<rect x="1837" y="192" width="19" height="36"/>
<rect x="2078" y="192" width="18" height="36"/>
<rect x="2189" y="192" width="11" height="36"/>
<rect x="2281" y="192" width="19" height="36"/>
<rect x="339" y="302" width="18" height="37"/>
<rect x="468" y="302" width="19" height="37"/>
<rect x="764" y="302" width="19" height="37"/>
<rect x="894" y="302" width="18" height="37"/>
<rect x="1042" y="302" width="18" height="37"/>
<rect x="1079" y="302" width="18" height="37"/>
<rect x="1541" y="302" width="19" height="37"/>
<rect x="1782" y="302" width="18" height="37"/>
<rect x="2059" y="302" width="19" height="37"/>
<rect x="2096" y="302" width="11" height="37"/>
<rect x="339" y="339" width="18" height="37"/>
<rect x="468" y="339" width="19" height="37"/>
<rect x="764" y="339" width="19" height="37"/>
<rect x="894" y="339" width="18" height="37"/>
<rect x="1042" y="339" width="18" height="37"/>
<rect x="1079" y="339" width="18" height="37"/>
<rect x="1541" y="339" width="19" height="37"/>
<rect x="1782" y="339" width="18" height="37"/>
<rect x="2059" y="339" width="19" height="37"/>
<rect x="2096" y="339" width="11" height="37"/>
<rect x="468" y="376" width="19" height="37"/>
<rect x="1042" y="376" width="18" height="37"/>
<rect x="1079" y="376" width="18" height="37"/>
<rect x="1782" y="376" width="11" height="37"/>
<rect x="2059" y="376" width="19" height="37"/>
<rect x="2096" y="376" width="19" height="37"/>
<rect x="468" y="413" width="19" height="37"/>
<rect x="1042" y="413" width="18" height="37"/>
<rect x="1079" y="413" width="18" height="37"/>
<rect x="1782" y="413" width="11" height="37"/>
<rect x="2059" y="413" width="19" height="37"/>
<rect x="2096" y="413" width="19" height="37"/>
<rect x="339" y="450" width="18" height="36"/>
<rect x="468" y="450" width="19" height="36"/>
<rect x="764" y="450" width="19" height="36"/>
<rect x="894" y="450" width="18" height="36"/>
<rect x="1042" y="450" width="18" height="36"/>
<rect x="1079" y="450" width="18" height="36"/>
<rect x="1541" y="450" width="19" height="36"/>
<rect x="1782" y="450" width="18" height="36"/>
<rect x="2059" y="450" width="19" height="36"/>
<rect x="2096" y="450" width="19" height="36"/>
<rect x="357" y="560" width="19" height="37"/>
<rect x="413" y="560" width="18" height="37"/>
<rect x="450" y="560" width="18" height="37"/>
<rect x="672" y="560" width="18" height="37"/>
<rect x="764" y="560" width="30" height="37"/>
<rect x="820" y="560" width="18" height="37"/>
<rect x="857" y="560" width="18" height="37"/>
<rect x="1523" y="560" width="18" height="37"/>
<rect x="1634" y="560" width="18" height="37"/>
<rect x="1708" y="560" width="18" height="37"/>
<rect x="1745" y="560" width="18" height="37"/>
<rect x="2170" y="560" width="19" height="37"/>
<rect x="357" y="597" width="19" height="37"/>
<rect x="413" y="597" width="18" height="37"/>
<rect x="450" y="597" width="18" height="37"/>
<rect x="672" y="597" width="18" height="37"/>
<rect x="764" y="597" width="30" height="37"/>
<rect x="820" y="597" width="18" height="37"/>
<rect x="857" y="597" width="18" height="37"/>
<rect x="1523" y="597" width="18" height="37"/>
<rect x="1634" y="597" width="18" height="37"/>
<rect x="1708" y="597" width="18" height="37"/>
<rect x="1745" y="597" width="18" height="37"/>
<rect x="2170" y="597" width="19" height="37"/>
<rect x="357" y="634" width="19" height="37"/>
<rect x="413" y="634" width="18" height="37"/>
<rect x="450" y="634" width="18" height="37"/>
<rect x="672" y="634" width="37" height="37"/>
<rect x="764" y="634" width="37" height="37"/>
<rect x="857" y="634" width="18" height="37"/>
<rect x="1523" y="634" width="18" height="37"/>
<rect x="1634" y="634" width="37" height="37"/>
<rect x="1708" y="634" width="18" height="37"/>
<rect x="1745" y="634" width="18" height="37"/>
<rect x="357" y="671" width="19" height="37"/>
<rect x="413" y="671" width="18" height="37"/>
<rect x="450" y="671" width="18" height="37"/>
<rect x="672" y="671" width="37" height="37"/>
<rect x="764" y="671" width="37" height="37"/>
<rect x="857" y="671" width="18" height="37"/>
<rect x="1523" y="671" width="18" height="37"/>
<rect x="1634" y="671" width="37" height="37"/>
<rect x="1708" y="671" width="18" height="37"/>
<rect x="1745" y="671" width="18" height="37"/>
<rect x="357" y="708" width="19" height="36"/>
<rect x="413" y="708" width="18" height="36"/>
<rect x="450" y="708" width="18" height="36"/>
<rect x="672" y="708" width="37" height="36"/>
<rect x="764" y="708" width="30" height="36"/>
<rect x="820" y="708" width="18" height="36"/>
<rect x="857" y="708" width="18" height="36"/>
<rect x="1523" y="708" width="18" height="36"/>
<rect x="1634" y="708" width="37" height="36"/>
<rect x="1708" y="708" width="18" height="36"/>
<rect x="1745" y="708" width="18" height="36"/>
<rect x="2170" y="708" width="19" height="36"/>
<rect x="302" y="819" width="11" height="36"/>
<rect x="339" y="819" width="18" height="36"/>
<rect x="487" y="819" width="18" height="36"/>
<rect x="875" y="819" width="19" height="36"/>
<rect x="986" y="819" width="19" height="36"/>
<rect x="1023" y="819" width="19" height="36"/>
<rect x="1134" y="819" width="19" height="36"/>
<rect x="1208" y="819" width="48" height="36"/>
<rect x="1282" y="819" width="19" height="36"/>
<rect x="1486" y="819" width="11" height="36"/>
<rect x="1874" y="819" width="19" height="36"/>
<rect x="1930" y="819" width="18" height="36"/>
<rect x="1985" y="819" width="19" height="36"/>
<rect x="2022" y="819" width="19" height="36"/>
<rect x="2059" y="819" width="56" height="36"/>
<rect x="2133" y="819" width="56" height="36"/>
<rect x="2207" y="819" width="11" height="36"/>
<rect x="2263" y="819" width="37" height="36"/>
<rect x="302" y="855" width="11" height="37"/>
<rect x="339" y="855" width="18" height="37"/>
<rect x="487" y="855" width="18" height="37"/>
<rect x="875" y="855" width="19" height="37"/>
<rect x="986" y="855" width="19" height="37"/>
<rect x="1023" y="855" width="19" height="37"/>
<rect x="1134" y="855" width="19" height="37"/>
<rect x="1208" y="855" width="48" height="37"/>
<rect x="1282" y="855" width="19" height="37"/>
<rect x="1486" y="855" width="11" height="37"/>
<rect x="1874" y="855" width="19" height="37"/>
<rect x="1930" y="855" width="18" height="37"/>
<rect x="1985" y="855" width="19" height="37"/>
<rect x="2022" y="855" width="19" height="37"/>
<rect x="2059" y="855" width="56" height="37"/>
<rect x="2133" y="855" width="56" height="37"/>
<rect x="2207" y="855" width="11" height="37"/>
<rect x="2263" y="855" width="37" height="37"/>
<rect x="302" y="892" width="18" height="37"/>
<rect x="875" y="892" width="19" height="37"/>
<rect x="1023" y="892" width="19" height="37"/>
<rect x="1153" y="892" width="18" height="37"/>
<rect x="1245" y="892" width="19" height="37"/>
<rect x="1282" y="892" width="19" height="37"/>
<rect x="1486" y="892" width="18" height="37"/>
<rect x="1874" y="892" width="19" height="37"/>
<rect x="1911" y="892" width="19" height="37"/>
<rect x="2133" y="892" width="30" height="37"/>
<rect x="2207" y="892" width="74" height="37"/>
<rect x="302" y="929" width="18" height="37"/>
<rect x="875" y="929" width="19" height="37"/>
<rect x="1023" y="929" width="19" height="37"/>
<rect x="1153" y="929" width="18" height="37"/>
<rect x="1245" y="929" width="19" height="37"/>
<rect x="1486" y="929" width="18" height="37"/>
<rect x="1874" y="929" width="19" height="37"/>
<rect x="1911" y="929" width="19" height="37"/>
<rect x="2133" y="929" width="19" height="37"/>
<rect x="2207" y="929" width="74" height="37"/>
<rect x="302" y="966" width="11" height="37"/>
<rect x="339" y="966" width="18" height="37"/>
<rect x="487" y="966" width="18" height="37"/>
<rect x="875" y="966" width="19" height="37"/>
<rect x="986" y="966" width="19" height="37"/>
<rect x="1023" y="966" width="19" height="37"/>
<rect x="1134" y="966" width="37" height="37"/>
<rect x="1208" y="966" width="56" height="37"/>
<rect x="1486" y="966" width="11" height="37"/>
<rect x="1874" y="966" width="19" height="37"/>
<rect x="1911" y="966" width="37" height="37"/>
<rect x="1985" y="966" width="19" height="37"/>
<rect x="2022" y="966" width="19" height="37"/>
<rect x="2059" y="966" width="56" height="37"/>
<rect x="2133" y="966" width="56" height="37"/>
<rect x="2207" y="966" width="11" height="37"/>
<rect x="2226" y="966" width="74" height="37"/>
<rect x="302" y="1077" width="18" height="37"/>
<rect x="413" y="1077" width="18" height="37"/>
<rect x="450" y="1077" width="37" height="37"/>
<rect x="524" y="1077" width="18" height="37"/>
<rect x="579" y="1077" width="19" height="37"/>
<rect x="746" y="1077" width="18" height="37"/>
<rect x="931" y="1077" width="18" height="37"/>
<rect x="1023" y="1077" width="19" height="37"/>
<rect x="1171" y="1077" width="19" height="37"/>
<rect x="1282" y="1077" width="37" height="37"/>
<rect x="1430" y="1077" width="19" height="37"/>
<rect x="1467" y="1077" width="19" height="37"/>
<rect x="1523" y="1077" width="18" height="37"/>
<rect x="1671" y="1077" width="11" height="37"/>
<rect x="1837" y="1077" width="19" height="37"/>
<rect x="1911" y="1077" width="11" height="37"/>
<rect x="2059" y="1077" width="19" height="37"/>
<rect x="2133" y="1077" width="19" height="37"/>
<rect x="2170" y="1077" width="74" height="37"/>
<rect x="302" y="1114" width="18" height="36"/>
<rect x="413" y="1114" width="18" height="36"/>
<rect x="450" y="1114" width="37" height="36"/>
<rect x="524" y="1114" width="18" height="36"/>
<rect x="579" y="1114" width="19" height="36"/>
<rect x="746" y="1114" width="18" height="36"/>
<rect x="931" y="1114" width="18" height="36"/>
<rect x="1023" y="1114" width="19" height="36"/>
<rect x="1171" y="1114" width="19" height="36"/>
<rect x="1282" y="1114" width="37" height="36"/>
<rect x="1430" y="1114" width="19" height="36"/>
<rect x="1467" y="1114" width="19" height="36"/>
<rect x="1523" y="1114" width="18" height="36"/>
<rect x="1671" y="1114" width="11" height="36"/>
<rect x="1837" y="1114" width="19" height="36"/>
<rect x="1911" y="1114" width="11" height="36"/>
<rect x="2059" y="1114" width="19" height="36"/>
<rect x="2133" y="1114" width="19" height="36"/>
<rect x="2170" y="1114" width="74" height="36"/>
<rect x="302" y="1150" width="18" height="37"/>
<rect x="450" y="1150" width="18" height="37"/>
<rect x="524" y="1150" width="18" height="37"/>
<rect x="653" y="1150" width="19" height="37"/>
<rect x="1264" y="1150" width="55" height="37"/>
<rect x="1430" y="1150" width="56" height="37"/>
<rect x="1523" y="1150" width="18" height="37"/>
<rect x="1671" y="1150" width="18" height="37"/>
<rect x="1837" y="1150" width="19" height="37"/>
<rect x="1911" y="1150" width="19" height="37"/>
<rect x="2059" y="1150" width="19" height="37"/>
<rect x="2133" y="1150" width="19" height="37"/>
<rect x="2170" y="1150" width="19" height="37"/>
<rect x="2207" y="1150" width="37" height="37"/>
<rect x="302" y="1187" width="18" height="37"/>
<rect x="450" y="1187" width="18" height="37"/>
<rect x="653" y="1187" width="19" height="37"/>
<rect x="1023" y="1187" width="19" height="37"/>
<rect x="1171" y="1187" width="19" height="37"/>
<rect x="1264" y="1187" width="55" height="37"/>
<rect x="1430" y="1187" width="56" height="37"/>
<rect x="1671" y="1187" width="18" height="37"/>
<rect x="1837" y="1187" width="19" height="37"/>
<rect x="1911" y="1187" width="19" height="37"/>
<rect x="2059" y="1187" width="19" height="37"/>
<rect x="2133" y="1187" width="19" height="37"/>
<rect x="2207" y="1187" width="37" height="37"/>
<rect x="302" y="1224" width="18" height="37"/>
<rect x="413" y="1224" width="18" height="37"/>
<rect x="450" y="1224" width="37" height="37"/>
<rect x="579" y="1224" width="19" height="37"/>
<rect x="653" y="1224" width="19" height="37"/>
<rect x="746" y="1224" width="18" height="37"/>
<rect x="931" y="1224" width="18" height="37"/>
<rect x="1171" y="1224" width="19" height="37"/>
<rect x="1264" y="1224" width="55" height="37"/>
<rect x="1430" y="1224" width="56" height="37"/>
<rect x="1523" y="1224" width="18" height="37"/>
<rect x="1671" y="1224" width="11" height="37"/>
<rect x="1837" y="1224" width="19" height="37"/>
<rect x="1911" y="1224" width="11" height="37"/>
<rect x="2059" y="1224" width="19" height="37"/>
<rect x="2133" y="1224" width="19" height="37"/>
<rect x="2170" y="1224" width="74" height="37"/>
<rect x="450" y="1335" width="18" height="37"/>
<rect x="931" y="1335" width="18" height="37"/>
<rect x="1190" y="1335" width="18" height="37"/>
<rect x="1412" y="1335" width="18" height="37"/>
<rect x="1541" y="1335" width="19" height="37"/>
<rect x="1726" y="1335" width="11" height="37"/>
<rect x="1763" y="1335" width="19" height="37"/>
<rect x="1856" y="1335" width="18" height="37"/>
<rect x="1893" y="1335" width="18" height="37"/>
<rect x="2004" y="1335" width="18" height="37"/>
<rect x="2189" y="1335" width="18" height="37"/>
<rect x="2226" y="1335" width="11" height="37"/>
<rect x="450" y="1372" width="18" height="36"/>
<rect x="931" y="1372" width="18" height="36"/>
<rect x="1190" y="1372" width="18" height="36"/>
<rect x="1412" y="1372" width="18" height="36"/>
<rect x="1541" y="1372" width="19" height="36"/>
<rect x="1726" y="1372" width="11" height="36"/>
<rect x="1763" y="1372" width="19" height="36"/>
<rect x="1856" y="1372" width="18" height="36"/>
<rect x="1893" y="1372" width="18" height="36"/>
<rect x="2004" y="1372" width="18" height="36"/>
<rect x="2189" y="1372" width="18" height="36"/>
<rect x="2226" y="1372" width="11" height="36"/>
<rect x="450" y="1408" width="18" height="37"/>
<rect x="598" y="1408" width="18" height="37"/>
<rect x="764" y="1408" width="37" height="37"/>
<rect x="968" y="1408" width="18" height="37"/>
<rect x="1190" y="1408" width="18" height="37"/>
<rect x="1412" y="1408" width="18" height="37"/>
<rect x="1726" y="1408" width="19" height="37"/>
<rect x="1763" y="1408" width="19" height="37"/>
<rect x="2115" y="1408" width="18" height="37"/>
<rect x="2189" y="1408" width="55" height="37"/>
<rect x="450" y="1445" width="18" height="37"/>
<rect x="598" y="1445" width="18" height="37"/>
<rect x="764" y="1445" width="37" height="37"/>
<rect x="968" y="1445" width="18" height="37"/>
<rect x="1190" y="1445" width="18" height="37"/>
<rect x="1412" y="1445" width="18" height="37"/>
<rect x="1541" y="1445" width="19" height="37"/>
<rect x="1726" y="1445" width="19" height="37"/>
<rect x="1763" y="1445" width="19" height="37"/>
<rect x="2115" y="1445" width="18" height="37"/>
<rect x="2189" y="1445" width="55" height="37"/>
<rect x="450" y="1482" width="18" height="37"/>
<rect x="598" y="1482" width="18" height="37"/>
<rect x="764" y="1482" width="37" height="37"/>
<rect x="931" y="1482" width="18" height="37"/>
<rect x="968" y="1482" width="18" height="37"/>
<rect x="1190" y="1482" width="18" height="37"/>
<rect x="1412" y="1482" width="18" height="37"/>
<rect x="1726" y="1482" width="19" height="37"/>
<rect x="1763" y="1482" width="19" height="37"/>
<rect x="1856" y="1482" width="18" height="37"/>
<rect x="1893" y="1482" width="18" height="37"/>
<rect x="2004" y="1482" width="18" height="37"/>
<rect x="2115" y="1482" width="18" height="37"/>
<rect x="2189" y="1482" width="55" height="37"/>
<rect x="320" y="1593" width="56" height="37"/>
<rect x="394" y="1593" width="19" height="37"/>
<rect x="746" y="1593" width="18" height="37"/>
<rect x="1079" y="1593" width="37" height="37"/>
<rect x="1190" y="1593" width="74" height="37"/>
<rect x="1282" y="1593" width="19" height="37"/>
<rect x="1449" y="1593" width="18" height="37"/>
<rect x="1486" y="1593" width="37" height="37"/>
<rect x="1578" y="1593" width="19" height="37"/>
<rect x="1708" y="1593" width="18" height="37"/>
<rect x="1745" y="1593" width="18" height="37"/>
<rect x="1837" y="1593" width="19" height="37"/>
<rect x="320" y="1630" width="56" height="36"/>
<rect x="394" y="1630" width="19" height="36"/>
<rect x="746" y="1630" width="18" height="36"/>
<rect x="1079" y="1630" width="37" height="36"/>
<rect x="1190" y="1630" width="74" height="36"/>
<rect x="1282" y="1630" width="19" height="36"/>
<rect x="1449" y="1630" width="18" height="36"/>
<rect x="1486" y="1630" width="37" height="36"/>
<rect x="1578" y="1630" width="19" height="36"/>
<rect x="1708" y="1630" width="18" height="36"/>
<rect x="1745" y="1630" width="18" height="36"/>
<rect x="1837" y="1630" width="19" height="36"/>
<rect x="487" y="1666" width="18" height="37"/>
<rect x="746" y="1666" width="18" height="37"/>
<rect x="1282" y="1666" width="11" height="37"/>
<rect x="1449" y="1666" width="18" height="37"/>
<rect x="1486" y="1666" width="18" height="37"/>
<rect x="394" y="1703" width="19" height="37"/>
<rect x="487" y="1703" width="18" height="37"/>
<rect x="746" y="1703" width="18" height="37"/>
<rect x="1097" y="1703" width="19" height="37"/>
<rect x="1282" y="1703" width="19" height="37"/>
<rect x="1449" y="1703" width="18" height="37"/>
<rect x="1578" y="1703" width="19" height="37"/>
<rect x="1745" y="1703" width="18" height="37"/>
<rect x="320" y="1740" width="56" height="37"/>
<rect x="394" y="1740" width="19" height="37"/>
<rect x="487" y="1740" width="18" height="37"/>
<rect x="746" y="1740" width="18" height="37"/>
<rect x="1079" y="1740" width="18" height="37"/>
<rect x="1190" y="1740" width="74" height="37"/>
<rect x="1282" y="1740" width="19" height="37"/>
<rect x="1449" y="1740" width="18" height="37"/>
<rect x="1486" y="1740" width="37" height="37"/>
<rect x="1578" y="1740" width="19" height="37"/>
<rect x="1708" y="1740" width="18" height="37"/>
<rect x="1745" y="1740" width="18" height="37"/>
<rect x="1837" y="1740" width="19" height="37"/>
</g>
<g fill="#ff80c0" shape-rendering="crispEdges">
<rect x="413" y="44" width="18" height="37"/>
<rect x="542" y="44" width="19" height="37"/>
<rect x="579" y="44" width="19" height="37"/>
<rect x="672" y="44" width="18" height="37"/>
<rect x="986" y="44" width="19" height="37"/>
<rect x="1264" y="44" width="18" height="37"/>
<rect x="1301" y="44" width="18" height="37"/>
<rect x="1763" y="44" width="19" height="37"/>
<rect x="1911" y="44" width="19" height="37"/>
<rect x="1948" y="44" width="19" height="37"/>
<rect x="2152" y="44" width="18" height="37"/>
<rect x="2300" y="44" width="18" height="37"/>
<rect x="413" y="81" width="18" height="37"/>
<rect x="542" y="81" width="19" height="37"/>
<rect x="579" y="81" width="19" height="37"/>
<rect x="672" y="81" width="18" height="37"/>
<rect x="986" y="81" width="19" height="37"/>
<rect x="1264" y="81" width="18" height="37"/>
<rect x="1301" y="81" width="18" height="37"/>
<rect x="1763" y="81" width="19" height="37"/>
<rect x="1911" y="81" width="19" height="37"/>
<rect x="1948" y="81" width="19" height="37"/>
<rect x="2152" y="81" width="18" height="37"/>
<rect x="2300" y="81" width="18" height="37"/>
<rect x="413" y="118" width="18" height="37"/>
<rect x="542" y="118" width="19" height="37"/>
<rect x="579" y="118" width="19" height="37"/>
<rect x="672" y="118" width="18" height="37"/>
<rect x="1301" y="118" width="18" height="37"/>
<rect x="1763" y="118" width="19" height="37"/>
<rect x="1911" y="118" width="19" height="37"/>
<rect x="1948" y="118" width="19" height="37"/>
<rect x="2152" y="118" width="18" height="37"/>
<rect x="2300" y="118" width="18" height="37"/>
<rect x="986" y="155" width="19" height="37"/>
<rect x="1264" y="155" width="18" height="37"/>
<rect x="1301" y="155" width="18" height="37"/>
<rect x="1763" y="155" width="19" height="37"/>
<rect x="1911" y="155" width="19" height="37"/>
<rect x="1948" y="155" width="19" height="37"/>
<rect x="2152" y="155" width="18" height="37"/>
<rect x="2300" y="155" width="18" height="37"/>
<rect x="413" y="192" width="18" height="36"/>
<rect x="542" y="192" width="19" height="36"/>
<rect x="579" y="192" width="19" height="36"/>
<rect x="672" y="192" width="18" height="36"/>
<rect x="986" y="192" width="19" height="36"/>
<rect x="1264" y="192" width="18" height="36"/>
<rect x="1301" y="192" width="18" height="36"/>
<rect x="2152" y="192" width="18" height="36"/>
<rect x="2300" y="192" width="18" height="36"/>
<rect x="302" y="302" width="37" height="37"/>
<rect x="357" y="302" width="19" height="37"/>
<rect x="579" y="302" width="19" height="37"/>
<rect x="949" y="302" width="19" height="37"/>
<rect x="1356" y="302" width="56" height="37"/>
<rect x="1467" y="302" width="19" height="37"/>
<rect x="1745" y="302" width="18" height="37"/>
<rect x="1985" y="302" width="19" height="37"/>
<rect x="2022" y="302" width="19" height="37"/>
<rect x="2226" y="302" width="18" height="37"/>
<rect x="2300" y="302" width="18" height="37"/>
<rect x="302" y="339" width="37" height="37"/>
<rect x="357" y="339" width="19" height="37"/>
<rect x="579" y="339" width="19" height="37"/>
<rect x="949" y="339" width="19" height="37"/>
<rect x="1356" y="339" width="56" height="37"/>
<rect x="1467" y="339" width="19" height="37"/>
<rect x="1745" y="339" width="18" height="37"/>
<rect x="1985" y="339" width="19" height="37"/>
<rect x="2022" y="339" width="19" height="37"/>
<rect x="2226" y="339" width="18" height="37"/>
<rect x="2300" y="339" width="18" height="37"/>
<rect x="302" y="376" width="37" height="37"/>
<rect x="357" y="376" width="19" height="37"/>
<rect x="579" y="376" width="19" height="37"/>
<rect x="1356" y="376" width="56" height="37"/>
<rect x="1467" y="376" width="19" height="37"/>
<rect x="1745" y="376" width="18" height="37"/>
<rect x="2022" y="376" width="19" height="37"/>
<rect x="2226" y="376" width="18" height="37"/>
<rect x="2300" y="376" width="18" height="37"/>
<rect x="357" y="413" width="19" height="37"/>
<rect x="579" y="413" width="19" height="37"/>
<rect x="949" y="413" width="19" height="37"/>
<rect x="1356" y="413" width="11" height="37"/>
<rect x="1375" y="413" width="11" height="37"/>
<rect x="1393" y="413" width="19" height="37"/>
<rect x="1745" y="413" width="18" height="37"/>
<rect x="1985" y="413" width="19" height="37"/>
<rect x="2022" y="413" width="19" height="37"/>
<rect x="2300" y="413" width="18" height="37"/>
<rect x="302" y="450" width="37" height="36"/>
<rect x="357" y="450" width="19" height="36"/>
<rect x="949" y="450" width="19" height="36"/>
<rect x="1356" y="450" width="56" height="36"/>
<rect x="1467" y="450" width="19" height="36"/>
<rect x="1745" y="450" width="18" height="36"/>
<rect x="1985" y="450" width="19" height="36"/>
<rect x="2022" y="450" width="19" height="36"/>
<rect x="2226" y="450" width="18" height="36"/>
<rect x="339" y="560" width="18" height="37"/>
<rect x="598" y="560" width="18" height="37"/>
<rect x="1005" y="560" width="18" height="37"/>
<rect x="1560" y="560" width="18" height="37"/>
<rect x="1726" y="560" width="19" height="37"/>
<rect x="2115" y="560" width="18" height="37"/>
<rect x="2189" y="560" width="18" height="37"/>
<rect x="339" y="597" width="18" height="37"/>
<rect x="505" y="597" width="19" height="37"/>
<rect x="598" y="597" width="18" height="37"/>
<rect x="1005" y="597" width="18" height="37"/>
<rect x="1560" y="597" width="37" height="37"/>
<rect x="1726" y="597" width="19" height="37"/>
<rect x="2115" y="597" width="18" height="37"/>
<rect x="2189" y="597" width="18" height="37"/>
<rect x="339" y="634" width="18" height="37"/>
<rect x="505" y="634" width="19" height="37"/>
<rect x="598" y="634" width="18" height="37"/>
<rect x="1005" y="634" width="18" height="37"/>
<rect x="1560" y="634" width="37" height="37"/>
<rect x="1726" y="634" width="19" height="37"/>
<rect x="2189" y="634" width="18" height="37"/>
<rect x="339" y="671" width="18" height="37"/>
<rect x="505" y="671" width="19" height="37"/>
<rect x="598" y="671" width="18" height="37"/>
<rect x="1005" y="671" width="18" height="37"/>
<rect x="1560" y="671" width="37" height="37"/>
<rect x="2115" y="671" width="18" height="37"/>
<rect x="2189" y="671" width="18" height="37"/>
<rect x="339" y="708" width="18" height="36"/>
<rect x="505" y="708" width="19" height="36"/>
<rect x="598" y="708" width="18" height="36"/>
<rect x="1005" y="708" width="18" height="36"/>
<rect x="1560" y="708" width="37" height="36"/>
<rect x="1726" y="708" width="19" height="36"/>
<rect x="2115" y="708" width="18" height="36"/>
<rect x="1060" y="819" width="19" height="36"/>
<rect x="1171" y="819" width="19" height="36"/>
<rect x="1356" y="819" width="37" height="36"/>
<rect x="1412" y="819" width="18" height="36"/>
<rect x="1763" y="819" width="19" height="36"/>
<rect x="2300" y="819" width="18" height="36"/>
<rect x="1060" y="855" width="19" height="37"/>
<rect x="1171" y="855" width="19" height="37"/>
<rect x="1356" y="855" width="37" height="37"/>
<rect x="1412" y="855" width="18" height="37"/>
<rect x="1763" y="855" width="19" height="37"/>
<rect x="2300" y="855" width="18" height="37"/>
<rect x="1060" y="892" width="19" height="37"/>
<rect x="1356" y="892" width="19" height="37"/>
<rect x="1412" y="892" width="18" height="37"/>
<rect x="1763" y="892" width="19" height="37"/>
<rect x="1060" y="929" width="19" height="37"/>
<rect x="1171" y="929" width="19" height="37"/>
<rect x="1375" y="929" width="18" height="37"/>
<rect x="1412" y="929" width="18" height="37"/>
<rect x="1763" y="929" width="19" height="37"/>
<rect x="2300" y="929" width="18" height="37"/>
<rect x="1060" y="966" width="19" height="37"/>
<rect x="1171" y="966" width="19" height="37"/>
<rect x="1356" y="966" width="37" height="37"/>
<rect x="1412" y="966" width="11" height="37"/>
<rect x="1763" y="966" width="11" height="37"/>
<rect x="2300" y="966" width="18" height="37"/>
<rect x="320" y="1077" width="19" height="37"/>
<rect x="376" y="1077" width="37" height="37"/>
<rect x="431" y="1077" width="19" height="37"/>
<rect x="598" y="1077" width="18" height="37"/>
<rect x="690" y="1077" width="19" height="37"/>
<rect x="949" y="1077" width="19" height="37"/>
<rect x="1060" y="1077" width="19" height="37"/>
<rect x="1393" y="1077" width="11" height="37"/>
<rect x="1504" y="1077" width="19" height="37"/>
<rect x="1597" y="1077" width="18" height="37"/>
<rect x="1800" y="1077" width="19" height="37"/>
<rect x="1874" y="1077" width="19" height="37"/>
<rect x="2115" y="1077" width="18" height="37"/>
<rect x="320" y="1114" width="19" height="36"/>
<rect x="376" y="1114" width="37" height="36"/>
<rect x="431" y="1114" width="19" height="36"/>
<rect x="598" y="1114" width="18" height="36"/>
<rect x="690" y="1114" width="19" height="36"/>
<rect x="949" y="1114" width="19" height="36"/>
<rect x="1060" y="1114" width="19" height="36"/>
<rect x="1393" y="1114" width="11" height="36"/>
<rect x="1504" y="1114" width="19" height="36"/>
<rect x="1597" y="1114" width="18" height="36"/>
<rect x="1800" y="1114" width="19" height="36"/>
<rect x="1874" y="1114" width="19" height="36"/>
<rect x="2115" y="1114" width="18" height="36"/>
<rect x="320" y="1150" width="19" height="37"/>
<rect x="376" y="1150" width="37" height="37"/>
<rect x="431" y="1150" width="19" height="37"/>
<rect x="598" y="1150" width="18" height="37"/>
<rect x="690" y="1150" width="19" height="37"/>
<rect x="949" y="1150" width="19" height="37"/>
<rect x="1060" y="1150" width="19" height="37"/>
<rect x="1393" y="1150" width="11" height="37"/>
<rect x="1504" y="1150" width="19" height="37"/>
<rect x="1597" y="1150" width="11" height="37"/>
<rect x="1800" y="1150" width="19" height="37"/>
<rect x="1874" y="1150" width="19" height="37"/>
<rect x="2115" y="1150" width="18" height="37"/>
<rect x="376" y="1187" width="37" height="37"/>
<rect x="431" y="1187" width="19" height="37"/>
<rect x="598" y="1187" width="18" height="37"/>
<rect x="690" y="1187" width="19" height="37"/>
<rect x="949" y="1187" width="19" height="37"/>
<rect x="1060" y="1187" width="19" height="37"/>
<rect x="1393" y="1187" width="11" height="37"/>
<rect x="1504" y="1187" width="19" height="37"/>
<rect x="1597" y="1187" width="18" height="37"/>
<rect x="1800" y="1187" width="19" height="37"/>
<rect x="1874" y="1187" width="19" height="37"/>
<rect x="2115" y="1187" width="18" height="37"/>
<rect x="320" y="1224" width="19" height="37"/>
<rect x="376" y="1224" width="18" height="37"/>
<rect x="431" y="1224" width="19" height="37"/>
<rect x="598" y="1224" width="18" height="37"/>
<rect x="690" y="1224" width="19" height="37"/>
<rect x="949" y="1224" width="19" height="37"/>
<rect x="1060" y="1224" width="19" height="37"/>
<rect x="1393" y="1224" width="19" height="37"/>
<rect x="1597" y="1224" width="18" height="37"/>
<rect x="1800" y="1224" width="19" height="37"/>
<rect x="1874" y="1224" width="19" height="37"/>
<rect x="2115" y="1224" width="18" height="37"/>
<rect x="1005" y="1335" width="18" height="37"/>
<rect x="1227" y="1335" width="18" height="37"/>
<rect x="1652" y="1335" width="37" height="37"/>
<rect x="1819" y="1335" width="18" height="37"/>
<rect x="1911" y="1335" width="19" height="37"/>
<rect x="1005" y="1372" width="18" height="36"/>
<rect x="1227" y="1372" width="18" height="36"/>
<rect x="1652" y="1372" width="37" height="36"/>
<rect x="1819" y="1372" width="18" height="36"/>
<rect x="1911" y="1372" width="19" height="36"/>
<rect x="1005" y="1408" width="18" height="37"/>
<rect x="1227" y="1408" width="18" height="37"/>
<rect x="1652" y="1408" width="37" height="37"/>
<rect x="1819" y="1408" width="18" height="37"/>
<rect x="1911" y="1408" width="19" height="37"/>
<rect x="1005" y="1445" width="18" height="37"/>
<rect x="1227" y="1445" width="18" height="37"/>
<rect x="1652" y="1445" width="37" height="37"/>
<rect x="1911" y="1445" width="19" height="37"/>
<rect x="1005" y="1482" width="18" height="37"/>
<rect x="1671" y="1482" width="18" height="37"/>
<rect x="1819" y="1482" width="18" height="37"/>
<rect x="1911" y="1482" width="19" height="37"/>
<rect x="431" y="1593" width="19" height="37"/>
<rect x="764" y="1593" width="37" height="37"/>
<rect x="838" y="1593" width="37" height="37"/>
<rect x="912" y="1593" width="19" height="37"/>
<rect x="1301" y="1593" width="18" height="37"/>
<rect x="1375" y="1593" width="18" height="37"/>
<rect x="1523" y="1593" width="18" height="37"/>
<rect x="1652" y="1593" width="37" height="37"/>
<rect x="1726" y="1593" width="19" height="37"/>
<rect x="1782" y="1593" width="55" height="37"/>
<rect x="431" y="1630" width="19" height="36"/>
<rect x="764" y="1630" width="37" height="36"/>
<rect x="838" y="1630" width="37" height="36"/>
<rect x="912" y="1630" width="19" height="36"/>
<rect x="1301" y="1630" width="18" height="36"/>
<rect x="1375" y="1630" width="18" height="36"/>
<rect x="1523" y="1630" width="18" height="36"/>
<rect x="1652" y="1630" width="37" height="36"/>
<rect x="1726" y="1630" width="19" height="36"/>
<rect x="1782" y="1630" width="55" height="36"/>
<rect x="431" y="1666" width="19" height="37"/>
<rect x="764" y="1666" width="19" height="37"/>
<rect x="857" y="1666" width="18" height="37"/>
<rect x="912" y="1666" width="19" height="37"/>
<rect x="1375" y="1666" width="18" height="37"/>
<rect x="1523" y="1666" width="18" height="37"/>
<rect x="1652" y="1666" width="37" height="37"/>
<rect x="764" y="1703" width="37" height="37"/>
<rect x="838" y="1703" width="37" height="37"/>
<rect x="912" y="1703" width="19" height="37"/>
<rect x="1301" y="1703" width="18" height="37"/>
<rect x="1652" y="1703" width="19" height="37"/>
<rect x="1726" y="1703" width="19" height="37"/>
<rect x="1782" y="1703" width="55" height="37"/>
<rect x="431" y="1740" width="19" height="37"/>
<rect x="783" y="1740" width="18" height="37"/>
<rect x="838" y="1740" width="37" height="37"/>
<rect x="912" y="1740" width="19" height="37"/>
<rect x="1301" y="1740" width="18" height="37"/>
<rect x="1375" y="1740" width="18" height="37"/>
<rect x="1523" y="1740" width="18" height="37"/>
<rect x="1652" y="1740" width="37" height="37"/>
<rect x="1726" y="1740" width="19" height="37"/>
<rect x="1782" y="1740" width="55" height="37"/>
</g>
<g font-family="Liberation Sans, Arial, sans-serif" font-size="25" font-weight="bold" text-anchor="middle" transform="scale(0.88 1)">
<text fill="#fff" x="374.4 395.4 416.4 437.4 458.5 521.5 542.6 1047.1 1089.1 1152.2 1509.6 1530.6 1551.6 1614.7 1635.7 1677.8 1698.8 1719.8 1736.6 1761.9 1803.9 1824.9 1846 1867 1888 1909 1972.1 2035.2 2056.2 2073 2119.3 2140.3 2161.3 2203.4 2266.4 2287.4 2329.5 2350.5 2388.3 2413.6 2434.6 2476.6 2518.7 2539.7 2560.7 2581.8" y="72">NPALAVDPSTWSPSSLYRIDWGAPYFNGNIVRPGTLHQIDLKVKKV</text>
<text fill="#000" x="332.3 353.4 479.5 500.5 563.6 584.6 605.6 626.6 647.7 668.7 689.7 710.7 731.8 752.8 773.8 794.8 811.6 836.9 857.9 878.9 899.9 921 942 963 984 1005.1 1026.1 1068.1 1110.2 1131.2 1173.2 1194.3 1215.3 1236.3 1257.3 1278.4 1299.4 1320.4 1341.4 1362.4 1383.5 1404.5 1425.5 1446.5 1467.6 1488.6 1572.7 1593.7 1656.8 1782.9 1930.1 1951.1 1993.1 2014.1 2098.2 2182.3 2224.4 2245.4 2308.5 2371.5 2455.6 2497.7 2602.8 2623.8" y="72">NPCRS.AVPPPGYSAFIAGENSLATAVFSSTTGAAAVDSTNSNSTHAHTSAVDSTHSSSELVSD</text>
<text fill="#fff" x="374.4 395.4 416.4 437.4 458.5 521.5 542.6 1047.1 1089.1 1152.2 1509.6 1530.6 1551.6 1614.7 1635.7 1677.8 1698.8 1719.8 1736.6 1761.9 1803.9 1824.9 1846 1867 1888 1909 1972.1 2035.2 2056.2 2073 2119.3 2140.3 2161.3 2203.4 2266.4 2287.4 2329.5 2350.5 2388.3 2413.6 2434.6 2476.6 2518.7 2539.7 2560.7 2581.8" y="108.8">NPALAVDPSTWSPSSLYRIDWGAPYFNGNIVRPGTLHQIDLKVKKV</text>
<text fill="#000" x="332.3 353.4 479.5 500.5 563.6 584.6 605.6 626.6 647.7 668.7 689.7 710.7 731.8 752.8 773.8 794.8 811.6 836.9 857.9 878.9 899.9 921 942 963 984 1005.1 1026.1 1068.1 1110.2 1131.2 1173.2 1194.3 1215.3 1236.3 1257.3 1278.4 1299.4 1320.4 1341.4 1362.4 1383.5 1404.5 1425.5 1446.5 1467.6 1488.6 1572.7 1593.7 1656.8 1782.9 1930.1 1951.1 1993.1 2014.1 2098.2 2182.3 2224.4 2245.4 2308.5 2371.5 2455.6 2497.7 2602.8 2623.8" y="108.8">NGCRS.AVPPPGYSAFIAGENSLATAVFSSTTGAAAVDSTNSNSTHAHTSAVDSTHSSSELVSD</text>
<text fill="#fff" x="374.4 395.4 416.4 437.4 458.5 521.5 542.6 1047.1 1089.1 1152.2 1509.6 1530.6 1551.6 1614.7 1635.7 1677.8 1698.8 1719.8 1736.6 1761.9 1803.9 1824.9 1846 1867 1888 1909 1972.1 2035.2 2056.2 2073 2119.3 2140.3 2161.3 2203.4 2266.4 2287.4 2329.5 2350.5 2388.3 2413.6 2434.6 2476.6 2518.7 2539.7 2560.7 2581.8" y="145.6">NPALAVDPSTWSPSSLYRIDWGAPYFNGNIVRPGTLHQIDLKVKKV</text>
<text fill="#000" x="332.3 353.4 479.5 500.5 563.6 584.6 605.6 626.6 647.7 668.7 689.7 710.7 731.8 752.8 773.8 794.8 815.9 836.9 857.9 878.9 899.9 921 942 963 984 1005.1 1021.8 1068.1 1110.2 1131.2 1173.2 1194.3 1215.3 1236.3 1257.3 1278.4 1299.4 1320.4 1341.4 1362.4 1383.5 1404.5 1425.5 1446.5 1467.6 1488.6 1572.7 1593.7 1656.8 1782.9 1925.8 1951.1 1993.1 2014.1 2098.2 2182.3 2224.4 2245.4 2308.5 2371.5 2455.6 2493.4 2602.8 2623.8" y="145.6">..C.TSFVPP....AYAFSDTAGDVFIASP........SAAVVVDRSLSGIASSSHSEPDLITG</text>
<text fill="#fff" x="374.4 395.4 416.4 437.4 458.5 521.5 542.6 1047.1 1089.1 1152.2 1509.6 1530.6 1551.6 1614.7 1635.7 1677.8 1698.8 1719.8 1736.6 1761.9 1803.9 1824.9 1846 1867 1888 1909 1972.1 2035.2 2056.2 2073 2119.3 2140.3 2161.3 2203.4 2266.4 2287.4 2329.5 2350.5 2388.3 2413.6 2434.6 2476.6 2518.7 2539.7 2560.7 2581.8" y="182.4">NPALAVDPSTWSPSSLYRIDWGAPYFNGNIVRPGTLHQIDLKVKKV</text>
<text fill="#000" x="332.3 353.4 479.5 500.5 563.6 584.6 605.6 626.6 647.7 668.7 689.7 710.7 731.8 752.8 773.8 794.8 815.9 836.9 853.6 878.9 899.9 921 942 963 979.8 1005.1 1026.1 1068.1 1110.2 1131.2 1173.2 1194.3 1215.3 1236.3 1257.3 1278.4 1299.4 1320.4 1341.4 1362.4 1383.5 1404.5 1425.5 1446.5 1467.6 1488.6 1572.7 1593.7 1656.8 1782.9 1930.1 1951.1 1993.1 2014.1 2098.2 2182.3 2224.4 2245.4 2308.5 2371.5 2455.6 2497.7 2602.8 2623.8" y="182.4">..F.TP............IDTFSSIFTSVS........AVVDGSCHSLSGAASSSHSNPDNVTD</text>
<text fill="#fff" x="374.4 395.4 416.4 437.4 458.5 521.5 542.6 1047.1 1089.1 1152.2 1509.6 1530.6 1551.6 1614.7 1635.7 1677.8 1698.8 1719.8 1736.6 1761.9 1803.9 1824.9 1846 1867 1888 1909 1972.1 2035.2 2056.2 2073 2119.3 2140.3 2161.3 2203.4 2266.4 2287.4 2329.5 2350.5 2388.3 2413.6 2434.6 2476.6 2518.7 2539.7 2560.7 2581.8" y="219.2">NPALAVDPSTWSPSSLYRIDWGAPYFNGNIVRPCTLHQIDLKVKKV</text>
<text fill="#000" x="332.3 353.4 479.5 500.5 563.6 584.6 605.6 626.6 647.7 668.7 689.7 710.7 731.8 752.8 773.8 794.8 811.6 836.9 857.9 878.9 899.9 921 942 963 984 1005.1 1026.1 1068.1 1110.2 1131.2 1173.2 1194.3 1215.3 1236.3 1257.3 1278.4 1299.4 1320.4 1341.4 1362.4 1383.5 1404.5 1425.5 1446.5 1467.6 1488.6 1572.7 1593.7 1656.8 1782.9 1930.1 1951.1 1993.1 2014.1 2098.2 2182.3 2224.4 2245.4 2308.5 2371.5 2455.6 2493.4 2602.8 2623.8" y="219.2">..CCAAAVAPPGYAAFIAGDSSLPSAVFAS......ADAADSNSTHAHAGSVNATYTDAELISD</text>
<text fill="#000" x="374.4 395.4 416.4 437.4 458.5 521.5 542.6 1047.1 1089.1 1152.2 1509.6 1530.6 1551.6 1614.7 1635.7 1677.8 1698.8 1719.8 1740.9 1761.9 1803.9 1824.9 1846 1867 1888 1909 1972.1 2035.2 2056.2 2077.2 2119.3 2140.3 2161.3 2203.4 2266.4 2287.4 2329.5 2350.5 2392.6 2413.6 2434.6 2476.6 2518.7 2539.7 2560.7 2581.8" y="256">npalavdpstwspsslyridwgapyfngnivrpgtlhqidlkvkkv</text>
<text fill="#fff" x="332.3 437.4 458.5 479.5 500.5 521.5 563.6 584.6 601.4 626.6 647.7 689.7 710.7 731.8 752.8 773.8 794.8 815.9 836.9 857.9 899.9 921 942 963 984 1047.1 1063.9 1131.2 1152.2 1173.2 1215.3 1257.3 1278.4 1299.4 1320.4 1341.4 1362.4 1383.5 1404.5 1425.5 1446.5 1467.6 1488.6 1509.6 1530.6 1614.7 1631.5 1656.8 1698.8 1719.8 1782.9 1803.9 1824.9 1846 1867 1888 1909 1930.1 1951.1 1972.1 2014.1 2056.2 2077.2 2098.2 2119.3 2140.3 2161.3 2182.3 2203.4 2224.4 2245.4 2287.4 2329.5 2371.5 2413.6 2434.6 2455.6 2476.6 2497.7 2518.7 2560.7 2581.8 2598.5" y="330.1">PGLGLQPLIVRPDVLKNRLELQSAFAIQGYSYQGVYPVKCNQDRFDIVFGFRFGLEAGSKELLANSCLCKGPALCNGFKDEYI</text>
<text fill="#000" x="353.4 374.4 395.4 416.4 542.6 668.7 878.9 1005.1 1026.1 1089.1 1110.2 1194.3 1236.3 1551.6 1572.7 1593.7 1677.8 1740.9 1761.9 1993.1 2035.2 2266.4 2308.5 2350.5 2388.3 2539.7 2623.8" y="330.1">KSVGNFSVSCTERVVEKTPPLNELIAS</text>
<text fill="#fff" x="332.3 437.4 458.5 479.5 500.5 521.5 563.6 584.6 601.4 626.6 647.7 689.7 710.7 731.8 752.8 773.8 794.8 815.9 836.9 857.9 899.9 921 942 963 984 1047.1 1063.9 1131.2 1152.2 1173.2 1215.3 1257.3 1278.4 1299.4 1320.4 1341.4 1362.4 1383.5 1404.5 1425.5 1446.5 1467.6 1488.6 1509.6 1530.6 1614.7 1631.5 1656.8 1698.8 1719.8 1782.9 1803.9 1824.9 1846 1867 1888 1909 1930.1 1951.1 1972.1 2014.1 2056.2 2077.2 2098.2 2119.3 2140.3 2161.3 2182.3 2203.4 2224.4 2245.4 2287.4 2329.5 2371.5 2413.6 2434.6 2455.6 2476.6 2497.7 2518.7 2560.7 2581.8 2598.5" y="366.9">PGLGLQPLIVRPDVLKNRLELQSAFAIQGYSYQGVYPVKCNQDRFDIVFGFRFGLEAGSKELLANSCLCKGPALCNGFKDEYI</text>
<text fill="#000" x="353.4 374.4 395.4 416.4 542.6 668.7 878.9 1005.1 1026.1 1089.1 1110.2 1194.3 1236.3 1551.6 1572.7 1593.7 1677.8 1740.9 1761.9 1993.1 2035.2 2266.4 2308.5 2350.5 2388.3 2539.7 2623.8" y="366.9">KSVGNFSVSCTERVVEKTPPLNELIAS</text>
<text fill="#fff" x="332.3 437.4 458.5 479.5 500.5 521.5 563.6 584.6 601.4 626.6 647.7 689.7 710.7 731.8 752.8 773.8 794.8 815.9 836.9 857.9 899.9 921 942 963 984 1047.1 1063.9 1131.2 1152.2 1173.2 1215.3 1257.3 1278.4 1299.4 1320.4 1341.4 1362.4 1383.5 1404.5 1425.5 1446.5 1467.6 1488.6 1509.6 1530.6 1614.7 1631.5 1656.8 1698.8 1719.8 1782.9 1803.9 1824.9 1846 1867 1888 1909 1930.1 1951.1 1972.1 2014.1 2056.2 2077.2 2098.2 2119.3 2140.3 2161.3 2182.3 2203.4 2224.4 2245.4 2287.4 2329.5 2371.5 2413.6 2434.6 2455.6 2476.6 2497.7 2518.7 2560.7 2581.8 2598.5" y="403.7">PGLGLQPLIVRPDVLKNRLELQSAFAIQGYSYQGVYPVKCNQDRFDIVFGFRFGLEAGSKELLANSCLCKGPALCNGFKDEYI</text>
<text fill="#000" x="353.4 374.4 395.4 416.4 542.6 668.7 878.9 1005.1 1026.1 1089.1 1110.2 1194.3 1236.3 1551.6 1572.7 1593.7 1677.8 1740.9 1761.9 1993.1 2030.9 2266.4 2308.5 2350.5 2392.6 2539.7 2623.8" y="403.7">KSSGLFCDYKSDHVVEKSSPISDFVAS</text>
<text fill="#fff" x="332.3 437.4 458.5 479.5 500.5 521.5 563.6 584.6 601.4 626.6 647.7 689.7 710.7 731.8 752.8 773.8 794.8 815.9 836.9 857.9 899.9 921 942 963 984 1047.1 1063.9 1131.2 1152.2 1173.2 1215.3 1257.3 1278.4 1299.4 1320.4 1341.4 1362.4 1383.5 1404.5 1425.5 1446.5 1467.6 1488.6 1509.6 1530.6 1614.7 1631.5 1656.8 1698.8 1719.8 1782.9 1803.9 1824.9 1846 1867 1888 1909 1930.1 1951.1 1972.1 2014.1 2056.2 2077.2 2098.2 2119.3 2140.3 2161.3 2182.3 2203.4 2224.4 2245.4 2287.4 2329.5 2371.5 2413.6 2434.6 2455.6 2476.6 2497.7 2518.7 2560.7 2581.8 2598.5" y="440.5">PGLGLQPLIVRPDVLKNRLELQSAFAIQGYSYQGVYPVKCNQDRFDIVFGFRFGLEAGSKELLANSCLCKGPALCNGFKDEYI</text>
<text fill="#000" x="353.4 374.4 395.4 416.4 542.6 668.7 878.9 1005.1 1026.1 1089.1 1110.2 1194.3 1236.3 1547.4 1568.4 1593.7 1677.8 1740.9 1761.9 1993.1 2030.9 2266.4 2308.5 2350.5 2392.6 2539.7 2623.8" y="440.5">...SLFCDYCSDHIIEESGPINEFVSS</text>
<text fill="#fff" x="332.3 437.4 458.5 479.5 500.5 521.5 563.6 584.6 601.4 626.6 647.7 689.7 710.7 731.8 752.8 773.8 794.8 815.9 836.9 857.9 899.9 921 942 963 984 1047.1 1063.9 1131.2 1152.2 1173.2 1215.3 1257.3 1278.4 1299.4 1320.4 1341.4 1362.4 1383.5 1404.5 1425.5 1446.5 1467.6 1488.6 1509.6 1530.6 1614.7 1631.5 1656.8 1698.8 1719.8 1782.9 1803.9 1824.9 1846 1867 1888 1909 1930.1 1951.1 1972.1 2014.1 2056.2 2077.2 2098.2 2119.3 2140.3 2161.3 2182.3 2203.4 2224.4 2245.4 2287.4 2329.5 2371.5 2413.6 2434.6 2455.6 2476.6 2497.7 2518.7 2560.7 2581.8 2598.5" y="477.3">PGLGLQPLIVRPDVLKNRLELQSAFAIQGYSYQGVYPVKCNQDRFDIVFGFRFGLEAGSKELLANSCLCKGPALCNGFKDEYI</text>
<text fill="#000" x="353.4 374.4 395.4 416.4 542.6 668.7 878.9 1005.1 1026.1 1089.1 1110.2 1194.3 1236.3 1551.6 1572.7 1593.7 1677.8 1740.9 1761.9 1993.1 2035.2 2266.4 2308.5 2350.5 2392.6 2539.7 2623.8" y="477.3">KSVGLVSESCAEHVVCKAPALNELVAF</text>
<text fill="#000" x="332.3 437.4 458.5 479.5 500.5 521.5 563.6 584.6 605.6 626.6 647.7 689.7 710.7 731.8 752.8 773.8 794.8 815.9 836.9 857.9 899.9 921 942 963 984 1047.1 1068.1 1131.2 1152.2 1173.2 1215.3 1257.3 1278.4 1299.4 1320.4 1341.4 1362.4 1383.5 1404.5 1425.5 1446.5 1467.6 1488.6 1509.6 1530.6 1614.7 1635.7 1656.8 1698.8 1719.8 1782.9 1803.9 1824.9 1846 1867 1888 1909 1930.1 1951.1 1972.1 2014.1 2056.2 2077.2 2098.2 2119.3 2140.3 2161.3 2182.3 2203.4 2224.4 2245.4 2287.4 2329.5 2371.5 2413.6 2434.6 2455.6 2476.6 2497.7 2518.7 2560.7 2581.8 2602.8" y="514.1">pglglqplivrpdvlknrlelqsafaiqgysyqgvypvkcnqdrfdivfgfrfgleagskellansclckgpalcngfkdeyi</text>
<text fill="#fff" x="332.3 353.4 374.4 437.4 458.5 542.6 563.6 601.4 626.6 647.7 668.7 710.7 731.8 752.8 815.9 836.9 853.6 921 963 1026.1 1047.1 1068.1 1089.1 1105.9 1131.2 1173.2 1194.3 1215.3 1236.3 1257.3 1278.4 1299.4 1320.4 1341.4 1362.4 1383.5 1404.5 1425.5 1446.5 1467.6 1488.6 1509.6 1530.6 1551.6 1572.7 1593.7 1614.7 1635.7 1656.8 1677.8 1698.8 1757.6 1824.9 1846 1909 2014.1 2035.2 2056.2 2077.2 2098.2 2119.3 2140.3 2161.3 2182.3 2203.4 2224.4 2241.1 2266.4 2287.4 2308.5 2325.2 2350.5 2371.5 2392.6 2434.6 2455.6 2518.7 2539.7 2581.8 2602.8 2623.8" y="588.2">LALRKNTIVLEEEELVISKVRPVIGRAKLRTKHSGHFGSTSGEKGKFGLTTIVVLNLDCLQLLHFHIGSQIPSTLLGVEAA</text>
<text fill="#000" x="395.4 416.4 479.5 500.5 521.5 584.6 689.7 773.8 794.8 878.9 895.7 942 984 1005.1 1152.2 1719.8 1740.9 1782.9 1803.9 1867 1888 1930.1 1951.1 1972.1 1993.1 2413.6 2476.6 2497.7 2560.7" y="588.2">LAFCFAQVKDIKLSLNHLQKDLDSDAQDS</text>
<text fill="#fff" x="332.3 353.4 374.4 437.4 458.5 542.6 563.6 601.4 626.6 647.7 668.7 710.7 731.8 752.8 815.9 836.9 853.6 921 963 1026.1 1047.1 1068.1 1089.1 1105.9 1131.2 1173.2 1194.3 1215.3 1236.3 1257.3 1278.4 1299.4 1320.4 1341.4 1362.4 1383.5 1404.5 1425.5 1446.5 1467.6 1488.6 1509.6 1530.6 1551.6 1572.7 1593.7 1614.7 1635.7 1656.8 1677.8 1698.8 1757.6 1824.9 1846 1909 2014.1 2035.2 2056.2 2077.2 2098.2 2119.3 2140.3 2161.3 2182.3 2203.4 2224.4 2241.1 2266.4 2287.4 2308.5 2325.2 2350.5 2371.5 2392.6 2434.6 2455.6 2518.7 2539.7 2581.8 2602.8 2623.8" y="625">LALRKNTIVLEEEELVISKVRPVIGRAKLRTKHSGHFGSTSGEKGKFGLTTIVVLNLDCLQLLHFHIGSQIPSTLLGVEAA</text>
<text fill="#000" x="395.4 416.4 479.5 500.5 521.5 584.6 689.7 773.8 794.8 878.9 895.7 942 984 1005.1 1152.2 1719.8 1740.9 1782.9 1803.9 1867 1888 1930.1 1951.1 1972.1 1993.1 2413.6 2476.6 2497.7 2560.7" y="625">LAFCFVQVKDIKLSLNHLRKDLDSDAQDS</text>
<text fill="#fff" x="332.3 353.4 374.4 437.4 458.5 542.6 563.6 601.4 626.6 647.7 668.7 710.7 731.8 752.8 815.9 836.9 853.6 921 963 1026.1 1047.1 1068.1 1089.1 1105.9 1131.2 1173.2 1194.3 1215.3 1236.3 1257.3 1278.4 1299.4 1320.4 1341.4 1362.4 1383.5 1404.5 1425.5 1446.5 1467.6 1488.6 1509.6 1530.6 1551.6 1572.7 1593.7 1614.7 1635.7 1656.8 1677.8 1698.8 1757.6 1824.9 1846 1909 2014.1 2035.2 2056.2 2077.2 2098.2 2119.3 2140.3 2161.3 2182.3 2203.4 2224.4 2241.1 2266.4 2287.4 2308.5 2325.2 2350.5 2371.5 2392.6 2434.6 2455.6 2518.7 2539.7 2581.8 2602.8 2623.8" y="661.8">LALRKNTIVLEEEELVISKVRPVIGRAKLRTKHSGHFGSTSGEKGKFGLTTIVVLNLDCLQLLHFHIGSQIPSTLLGVEAA</text>
<text fill="#000" x="395.4 416.4 479.5 500.5 521.5 584.6 689.7 773.8 794.8 878.9 899.9 942 984 1005.1 1152.2 1719.8 1740.9 1782.9 1803.9 1867 1888 1930.1 1951.1 1972.1 1993.1 2413.6 2476.6 2497.7 2560.7" y="661.8">LGLALVQLDELQNNLTQVRRKRQSGSSDA</text>
<text fill="#fff" x="332.3 353.4 374.4 437.4 458.5 542.6 563.6 601.4 626.6 647.7 668.7 710.7 731.8 752.8 815.9 836.9 853.6 921 963 1026.1 1047.1 1068.1 1089.1 1105.9 1131.2 1173.2 1194.3 1215.3 1236.3 1257.3 1278.4 1299.4 1320.4 1341.4 1362.4 1383.5 1404.5 1425.5 1446.5 1467.6 1488.6 1509.6 1530.6 1551.6 1572.7 1593.7 1614.7 1635.7 1656.8 1677.8 1698.8 1757.6 1824.9 1846 1909 2014.1 2035.2 2056.2 2077.2 2098.2 2119.3 2140.3 2161.3 2182.3 2203.4 2224.4 2241.1 2266.4 2287.4 2308.5 2325.2 2350.5 2371.5 2392.6 2434.6 2455.6 2518.7 2539.7 2581.8 2602.8 2623.8" y="698.6">LALRKNTIVLEEEELVISKVRPVIGRAKLRTKHSGHFGSTSGEKGKFGLTTIVVLNLDCLQLLHFHIGSQIPSTLLGVEAA</text>
<text fill="#000" x="395.4 416.4 479.5 500.5 521.5 584.6 689.7 773.8 794.8 878.9 899.9 942 984 1005.1 1152.2 1719.8 1740.9 1782.9 1803.9 1867 1888 1930.1 1951.1 1972.1 1993.1 2413.6 2476.6 2497.7 2560.7" y="698.6">FGLELVQLDDLQNNLVQLRRKSQVGASDA</text>
<text fill="#fff" x="332.3 353.4 374.4 437.4 458.5 542.6 563.6 601.4 626.6 647.7 668.7 710.7 731.8 752.8 815.9 836.9 853.6 921 963 1026.1 1047.1 1068.1 1089.1 1105.9 1131.2 1173.2 1194.3 1215.3 1236.3 1257.3 1278.4 1299.4 1320.4 1341.4 1362.4 1383.5 1404.5 1425.5 1446.5 1467.6 1488.6 1509.6 1530.6 1551.6 1572.7 1593.7 1614.7 1635.7 1656.8 1677.8 1698.8 1757.6 1824.9 1846 1909 2014.1 2035.2 2056.2 2077.2 2098.2 2119.3 2140.3 2161.3 2182.3 2203.4 2224.4 2241.1 2266.4 2287.4 2308.5 2325.2 2350.5 2371.5 2392.6 2434.6 2455.6 2518.7 2539.7 2581.8 2602.8 2623.8" y="735.4">LALRKNTIVLEEEELVISKVRPVIGRAKLRTKHSGHFGSTSGEKGKFGLTTIVVLNLDCLQLLHFHIGSQIPSTLLGVEAA</text>
<text fill="#000" x="395.4 416.4 479.5 500.5 521.5 584.6 689.7 773.8 794.8 878.9 895.7 942 984 1005.1 1152.2 1715.6 1740.9 1782.9 1803.9 1867 1888 1930.1 1951.1 1972.1 1993.1 2413.6 2476.6 2497.7 2560.7" y="735.4">LALALVEVDEIKLYVIQLRKKQDSGAQAV</text>
<text fill="#000" x="332.3 353.4 374.4 437.4 458.5 542.6 563.6 605.6 626.6 647.7 668.7 710.7 731.8 752.8 815.9 836.9 857.9 921 963 1026.1 1047.1 1068.1 1089.1 1110.2 1131.2 1173.2 1194.3 1215.3 1236.3 1257.3 1278.4 1299.4 1320.4 1341.4 1362.4 1383.5 1404.5 1425.5 1446.5 1467.6 1488.6 1509.6 1530.6 1551.6 1572.7 1593.7 1614.7 1635.7 1656.8 1677.8 1698.8 1761.9 1824.9 1846 1909 2014.1 2035.2 2056.2 2077.2 2098.2 2119.3 2140.3 2161.3 2182.3 2203.4 2224.4 2245.4 2266.4 2287.4 2308.5 2329.5 2350.5 2371.5 2392.6 2434.6 2455.6 2518.7 2539.7 2581.8 2602.8 2623.8" y="772.2">lalrkntivleeeelviskvrpvigraklrtkhsghfgstsgekgkfglttivvlnldclqllhfhigsqipstllgveaa</text>
<text fill="#fff" x="332.3 374.4 416.4 437.4 479.5 500.5 521.5 542.6 584.6 605.6 626.6 643.4 668.7 685.5 710.7 731.8 752.8 773.8 794.8 811.6 836.9 857.9 878.9 899.9 921 942 963 984 1026.1 1047.1 1068.1 1089.1 1110.2 1152.2 1194.3 1236.3 1257.3 1278.4 1362.4 1446.5 1488.6 1509.6 1530.6 1593.7 1635.7 1656.8 1677.8 1715.6 1740.9 1761.9 1782.9 1803.9 1824.9 1846 1867 1883.8 1909 1930.1 1951.1 1972.1 1993.1 2035.2 2051.9 2077.2 2098.2 2119.3 2161.3 2497.7" y="846.3">QYELRLGANKVIDIGGGLGIDYDGSKSGSDLSVYLEYAVRVCDSKHPICSESGRAIVSHHSLIFEASF</text>
<text fill="#000" x="349.1 395.4 458.5 563.6 1005.1 1131.2 1173.2 1215.3 1299.4 1320.4 1341.4 1383.5 1404.5 1421.2 1467.6 1551.6 1572.7 1614.7 1694.5 2014.1 2140.3 2182.3 2203.4 2224.4 2245.4 2266.4 2287.4 2308.5 2329.5 2350.5 2371.5 2392.6 2409.3 2434.6 2455.6 2476.6 2514.4 2539.7 2560.7 2581.8 2602.8 2623.8" y="846.3">ISTDNSGESTVNAIVRKVIVNTTD.TAPSNNQINLPI..ELS</text>
<text fill="#fff" x="332.3 374.4 416.4 437.4 479.5 500.5 521.5 542.6 584.6 605.6 626.6 643.4 668.7 685.5 710.7 731.8 752.8 773.8 794.8 811.6 836.9 857.9 878.9 899.9 921 942 963 984 1026.1 1047.1 1068.1 1089.1 1110.2 1152.2 1194.3 1236.3 1257.3 1278.4 1362.4 1446.5 1488.6 1509.6 1530.6 1593.7 1635.7 1656.8 1677.8 1715.6 1740.9 1761.9 1782.9 1803.9 1824.9 1846 1867 1883.8 1909 1930.1 1951.1 1972.1 1993.1 2035.2 2051.9 2077.2 2098.2 2119.3 2161.3 2497.7" y="883.1">QYELRLGANKVIDIGGGLGIDYDGSKSGSDLSVYLEYAVRVCDSKHPICSESGRAIVSHHSLIFEASF</text>
<text fill="#000" x="349.1 395.4 458.5 563.6 1005.1 1131.2 1173.2 1215.3 1299.4 1320.4 1341.4 1383.5 1404.5 1421.2 1467.6 1551.6 1572.7 1614.7 1694.5 2014.1 2140.3 2182.3 2203.4 2224.4 2245.4 2266.4 2287.4 2308.5 2329.5 2350.5 2371.5 2392.6 2409.3 2434.6 2455.6 2476.6 2514.4 2539.7 2560.7 2581.8 2602.8 2623.8" y="883.1">ISTDNSGESTVNAIVRKVIVNTTD.TAPSNNQINLPI..ELS</text>
<text fill="#fff" x="332.3 374.4 416.4 437.4 479.5 500.5 521.5 542.6 584.6 605.6 626.6 643.4 668.7 685.5 710.7 731.8 752.8 773.8 794.8 811.6 836.9 857.9 878.9 899.9 921 942 963 984 1026.1 1047.1 1068.1 1089.1 1110.2 1152.2 1194.3 1236.3 1257.3 1278.4 1362.4 1446.5 1488.6 1509.6 1530.6 1593.7 1635.7 1656.8 1677.8 1715.6 1740.9 1761.9 1782.9 1803.9 1824.9 1846 1867 1883.8 1909 1930.1 1951.1 1972.1 1993.1 2035.2 2051.9 2077.2 2098.2 2119.3 2161.3 2497.7" y="919.9">QYELRLGANKVIDIGGGLGIDYDGSKSGSDLSVYLEYAVRVCDSKHPICSESGRAIVSHHSLIFEASF</text>
<text fill="#000" x="353.4 395.4 458.5 563.6 1005.1 1131.2 1173.2 1215.3 1299.4 1320.4 1341.4 1383.5 1404.5 1425.5 1467.6 1551.6 1572.7 1614.7 1698.8 2014.1 2140.3 2182.3 2203.4 2224.4 2245.4 2266.4 2287.4 2308.5 2329.5 2350.5 2371.5 2392.6 2413.6 2434.6 2451.4 2476.6 2518.7 2539.7 2560.7 2581.8 2602.8 2623.8" y="919.9">LCVHEASEEAFASVVRSVVVVADKPNVHCATPGDICLLEGN.</text>
<text fill="#fff" x="332.3 374.4 416.4 437.4 479.5 500.5 521.5 542.6 584.6 605.6 626.6 643.4 668.7 685.5 710.7 731.8 752.8 773.8 794.8 811.6 836.9 857.9 878.9 899.9 921 942 963 984 1026.1 1047.1 1068.1 1089.1 1110.2 1152.2 1194.3 1236.3 1257.3 1278.4 1362.4 1446.5 1488.6 1509.6 1530.6 1593.7 1635.7 1656.8 1677.8 1715.6 1740.9 1761.9 1782.9 1803.9 1824.9 1846 1867 1883.8 1909 1930.1 1951.1 1972.1 1993.1 2035.2 2051.9 2077.2 2098.2 2119.3 2161.3 2497.7" y="956.7">QYELRLGANKVIDIGGGLGIDYDGSKSGSDLSVYLEYAVRVCDSKHPICSESGRAIVSHHSLIFEASF</text>
<text fill="#000" x="353.4 395.4 458.5 563.6 1005.1 1131.2 1173.2 1215.3 1299.4 1320.4 1341.4 1383.5 1404.5 1425.5 1467.6 1551.6 1572.7 1614.7 1698.8 2014.1 2140.3 2182.3 2203.4 2224.4 2245.4 2266.4 2287.4 2308.5 2329.5 2350.5 2371.5 2392.6 2413.6 2434.6 2455.6 2476.6 2518.7 2539.7 2560.7 2581.8 2602.8 2623.8" y="956.7">LCVHEASEAAVASVFCKVVVVAGQ...CHETPTDHQNLEGYS</text>
<text fill="#fff" x="332.3 374.4 416.4 437.4 479.5 500.5 521.5 542.6 584.6 605.6 626.6 643.4 668.7 685.5 710.7 731.8 752.8 773.8 794.8 811.6 836.9 857.9 878.9 899.9 921 942 963 984 1026.1 1047.1 1068.1 1089.1 1110.2 1152.2 1194.3 1236.3 1257.3 1278.4 1362.4 1446.5 1488.6 1509.6 1530.6 1593.7 1635.7 1656.8 1677.8 1715.6 1740.9 1761.9 1782.9 1803.9 1824.9 1846 1867 1883.8 1909 1930.1 1951.1 1972.1 1993.1 2035.2 2051.9 2077.2 2098.2 2119.3 2161.3 2497.7" y="993.5">QYELRLGANKVIDIGGGLGIDYDGSKSGSDLSVYLEYAVRVCDSKHPICSESGRAIVSHHSLIFEASF</text>
<text fill="#000" x="349.1 395.4 458.5 563.6 1005.1 1131.2 1173.2 1215.3 1299.4 1320.4 1341.4 1383.5 1404.5 1425.5 1467.6 1551.6 1572.7 1610.5 1694.5 2009.9 2140.3 2182.3 2203.4 2224.4 2245.4 2266.4 2287.4 2308.5 2329.5 2350.5 2371.5 2392.6 2413.6 2434.6 2455.6 2476.6 2514.4 2539.7 2560.7 2581.8 2602.8 2623.8" y="993.5">ISADNSGQSAVNAVFRKIIINATAPTTPANNQVDLPILEGLS</text>
<text fill="#000" x="332.3 374.4 416.4 437.4 479.5 500.5 521.5 542.6 584.6 605.6 626.6 647.7 668.7 689.7 710.7 731.8 752.8 773.8 794.8 815.9 836.9 857.9 878.9 899.9 921 942 963 984 1026.1 1047.1 1068.1 1089.1 1110.2 1152.2 1194.3 1236.3 1257.3 1278.4 1362.4 1446.5 1488.6 1509.6 1530.6 1593.7 1635.7 1656.8 1677.8 1719.8 1740.9 1761.9 1782.9 1803.9 1824.9 1846 1867 1888 1909 1930.1 1951.1 1972.1 1993.1 2035.2 2056.2 2077.2 2098.2 2119.3 2161.3 2497.7" y="1030.3">qyelrlgankvidiggglgidydgsksgsdlsvyleyavrvcdskhpicsesgraivshhslifeasf</text>
<text fill="#fff" x="332.3 395.4 584.6 626.6 647.7 731.8 773.8 836.9 878.9 899.9 921 942 963 984 1005.1 1026.1 1047.1 1110.2 1131.2 1152.2 1194.3 1232 1257.3 1278.4 1299.4 1320.4 1362.4 1383.5 1404.5 1425.5 1509.6 1551.6 1698.8 1761.9 1782.9 1846 1867 1888 1930.1 1951.1 1972.1 1988.9 2014.1 2035.2 2077.2 2115 2161.3 2203.4 2224.4 2241.1 2266.4 2287.4 2304.2 2329.5 2371.5 2392.6 2455.6 2556.5 2581.8 2602.8 2623.8" y="1104.4">ERANRECYDQLKQRCVEKEGLIEQLAVDGLVKPTYNLSFTSIPDWIQFPIVPIHLDPILSD</text>
<text fill="#000" x="353.4 374.4 416.4 437.4 458.5 479.5 500.5 521.5 542.6 563.6 605.6 668.7 689.7 710.7 752.8 794.8 815.9 857.9 1068.1 1089.1 1173.2 1215.3 1341.4 1446.5 1467.6 1488.6 1530.6 1568.4 1589.4 1614.7 1635.7 1656.8 1677.8 1719.8 1740.9 1803.9 1824.9 1904.8 2056.2 2098.2 2140.3 2178.1 2350.5 2413.6 2434.6 2476.6 2497.7 2518.7 2539.7" y="1104.4">DASDYVNNSDVHDNTLFACFSGAFDLTIIVGTEVRLVIFSDIRQKEVKA</text>
<text fill="#fff" x="332.3 395.4 584.6 626.6 647.7 731.8 773.8 836.9 878.9 899.9 921 942 963 984 1005.1 1026.1 1047.1 1110.2 1131.2 1152.2 1194.3 1232 1257.3 1278.4 1299.4 1320.4 1362.4 1383.5 1404.5 1425.5 1509.6 1551.6 1698.8 1761.9 1782.9 1846 1867 1888 1930.1 1951.1 1972.1 1988.9 2014.1 2035.2 2077.2 2115 2161.3 2203.4 2224.4 2241.1 2266.4 2287.4 2304.2 2329.5 2371.5 2392.6 2455.6 2556.5 2581.8 2602.8 2623.8" y="1141.2">ERANRECYDQLKQRCVEKEGLIEQLAVDGLVKPTYNLSFTSIPDWIQFPIVPIHLDPILSD</text>
<text fill="#000" x="353.4 374.4 416.4 437.4 458.5 479.5 500.5 521.5 542.6 563.6 605.6 668.7 689.7 710.7 752.8 794.8 815.9 857.9 1068.1 1089.1 1173.2 1215.3 1341.4 1446.5 1467.6 1488.6 1530.6 1568.4 1589.4 1614.7 1635.7 1656.8 1677.8 1719.8 1740.9 1803.9 1824.9 1904.8 2056.2 2098.2 2140.3 2178.1 2350.5 2413.6 2434.6 2476.6 2497.7 2518.7 2539.7" y="1141.2">DASDYVNNSDVHDNTLFACFSGAFDLTIIVGTEVRLVIFSDIRQKEVKA</text>
<text fill="#fff" x="332.3 395.4 584.6 626.6 647.7 731.8 773.8 836.9 878.9 899.9 921 942 963 984 1005.1 1026.1 1047.1 1110.2 1131.2 1152.2 1194.3 1232 1257.3 1278.4 1299.4 1320.4 1362.4 1383.5 1404.5 1425.5 1509.6 1551.6 1698.8 1761.9 1782.9 1846 1867 1888 1930.1 1951.1 1972.1 1988.9 2014.1 2035.2 2077.2 2115 2161.3 2203.4 2224.4 2241.1 2266.4 2287.4 2304.2 2329.5 2371.5 2392.6 2455.6 2556.5 2581.8 2602.8 2623.8" y="1178">ERANRECYDQLKQRCVEKEGLIEQLAVDGLVKPTYNLSFTSIPDWIQFPIVPIHLDPILSD</text>
<text fill="#000" x="353.4 374.4 416.4 437.4 458.5 479.5 500.5 521.5 542.6 563.6 605.6 668.7 689.7 710.7 752.8 794.8 815.9 857.9 1068.1 1089.1 1173.2 1215.3 1341.4 1446.5 1467.6 1488.6 1530.6 1572.7 1589.4 1614.7 1635.7 1656.8 1677.8 1719.8 1740.9 1803.9 1820.7 1909 2056.2 2098.2 2140.3 2182.3 2350.5 2413.6 2434.6 2476.6 2497.7 2518.7 2539.7" y="1178">EAANYEDLYAVGDHSLLVGYVSSCEVLAIGASDVHNIVLGDLKQRGARG</text>
<text fill="#fff" x="332.3 395.4 584.6 626.6 647.7 731.8 773.8 836.9 878.9 899.9 921 942 963 984 1005.1 1026.1 1047.1 1110.2 1131.2 1152.2 1194.3 1232 1257.3 1278.4 1299.4 1320.4 1362.4 1383.5 1404.5 1425.5 1509.6 1551.6 1698.8 1761.9 1782.9 1846 1867 1888 1930.1 1951.1 1972.1 1988.9 2014.1 2035.2 2077.2 2115 2161.3 2203.4 2224.4 2241.1 2266.4 2287.4 2304.2 2329.5 2371.5 2392.6 2455.6 2556.5 2581.8 2602.8 2623.8" y="1214.8">ERANRECYDQLKQRCVEKEGLIEQLAVDGLVKPTYNLSFTSIPDWIQFPIVPIHLDPILSD</text>
<text fill="#000" x="353.4 374.4 416.4 437.4 458.5 479.5 500.5 521.5 542.6 563.6 605.6 668.7 689.7 710.7 752.8 794.8 815.9 857.9 1068.1 1089.1 1173.2 1215.3 1341.4 1446.5 1467.6 1488.6 1526.4 1572.7 1589.4 1614.7 1635.7 1656.8 1677.8 1719.8 1740.9 1803.9 1824.9 1909 2056.2 2098.2 2140.3 2182.3 2350.5 2413.6 2434.6 2476.6 2497.7 2518.7 2539.7" y="1214.8">EVGDYENLYGAGDRSLLVGFSGGCEVIAIGASDVLHVVFGDLKQRAARG</text>
<text fill="#fff" x="332.3 395.4 584.6 626.6 647.7 731.8 773.8 836.9 878.9 899.9 921 942 963 984 1005.1 1026.1 1047.1 1110.2 1131.2 1152.2 1194.3 1232 1257.3 1278.4 1299.4 1320.4 1362.4 1383.5 1404.5 1425.5 1509.6 1551.6 1698.8 1761.9 1782.9 1846 1867 1888 1930.1 1951.1 1972.1 1988.9 2014.1 2035.2 2077.2 2115 2161.3 2203.4 2224.4 2241.1 2266.4 2287.4 2304.2 2329.5 2371.5 2392.6 2455.6 2556.5 2581.8 2602.8 2623.8" y="1251.6">ERANRECYDQLKQRCVEKEGLIEQLAVDGLVKPTYNLSFTSIPDWIQFPIVPIHLDPILSD</text>
<text fill="#000" x="353.4 374.4 416.4 437.4 458.5 479.5 500.5 521.5 542.6 563.6 605.6 668.7 689.7 710.7 752.8 794.8 815.9 857.9 1068.1 1089.1 1173.2 1215.3 1341.4 1446.5 1467.6 1488.6 1530.6 1572.7 1593.7 1614.7 1635.7 1656.8 1677.8 1719.8 1740.9 1803.9 1824.9 1904.8 2056.2 2098.2 2140.3 2178.1 2350.5 2413.6 2434.6 2476.6 2497.7 2518.7 2539.7" y="1251.6">DAVDQVNLSQAHETSFVACFTGACDLSVVDASEARHVIFSGIREREVRG</text>
<text fill="#000" x="332.3 395.4 584.6 626.6 647.7 731.8 773.8 836.9 878.9 899.9 921 942 963 984 1005.1 1026.1 1047.1 1110.2 1131.2 1152.2 1194.3 1236.3 1257.3 1278.4 1299.4 1320.4 1362.4 1383.5 1404.5 1425.5 1509.6 1551.6 1698.8 1761.9 1782.9 1846 1867 1888 1930.1 1951.1 1972.1 1993.1 2014.1 2035.2 2077.2 2119.3 2161.3 2203.4 2224.4 2245.4 2266.4 2287.4 2308.5 2329.5 2371.5 2392.6 2455.6 2560.7 2581.8 2602.8 2623.8" y="1288.4">eranrecydqlkqrcvekeglieqlavdglvkptynlsftsipdwiqfpivpihldpilsd</text>
<text fill="#fff" x="332.3 353.4 374.4 395.4 416.4 437.4 458.5 479.5 496.2 542.6 563.6 580.3 605.6 626.6 647.7 710.7 731.8 752.8 773.8 1089.1 1131.2 1173.2 1194.3 1215.3 1236.3 1257.3 1278.4 1299.4 1320.4 1341.4 1383.5 1425.5 1446.5 1467.6 1488.6 1509.6 1530.6 1551.6 1572.7 1593.7 1635.7 1656.8 1677.8 1698.8 1740.9 1782.9 1803.9 1824.9 1846 1867 1930.1 1951.1 1993.1 2035.2 2098.2 2140.3 2203.4 2224.4 2245.4 2266.4 2308.5 2329.5 2350.5 2371.5 2392.6 2434.6 2455.6 2476.6 2560.7 2581.8 2602.8 2623.8" y="1362.5">LTCDSDGKIKFIGGELPLHGYLGNFLGGAYELGGVHNLFGPSVVVQSDGPFATAGSDVLRNQHEPLNFKHRA</text>
<text fill="#000" x="521.5 668.7 689.7 794.8 815.9 836.9 857.9 878.9 899.9 921 942 963 984 1005.1 1026.1 1047.1 1068.1 1110.2 1152.2 1362.4 1404.5 1614.7 1719.8 1761.9 1888 1909 1967.8 2014.1 2056.2 2077.2 2119.3 2161.3 2182.3 2287.4 2413.6 2497.7 2518.7 2535.5" y="1362.5">DANKP..........GNQYQASTLHSIHNPPCAVKENI</text>
<text fill="#fff" x="332.3 353.4 374.4 395.4 416.4 437.4 458.5 479.5 496.2 542.6 563.6 580.3 605.6 626.6 647.7 710.7 731.8 752.8 773.8 1089.1 1131.2 1173.2 1194.3 1215.3 1236.3 1257.3 1278.4 1299.4 1320.4 1341.4 1383.5 1425.5 1446.5 1467.6 1488.6 1509.6 1530.6 1551.6 1572.7 1593.7 1635.7 1656.8 1677.8 1698.8 1740.9 1782.9 1803.9 1824.9 1846 1867 1930.1 1951.1 1993.1 2035.2 2098.2 2140.3 2203.4 2224.4 2245.4 2266.4 2308.5 2329.5 2350.5 2371.5 2392.6 2434.6 2455.6 2476.6 2560.7 2581.8 2602.8 2623.8" y="1399.3">LTCDSDGKIKFIGGELPLHGYLGNFLGGAYELGGVHNLFGPSVVVQSDGPFATAGSDVLRNQHEPLNFKHRA</text>
<text fill="#000" x="521.5 668.7 689.7 794.8 815.9 836.9 857.9 878.9 899.9 921 942 963 984 1005.1 1026.1 1047.1 1068.1 1110.2 1152.2 1362.4 1404.5 1614.7 1719.8 1761.9 1888 1909 1967.8 2014.1 2056.2 2077.2 2119.3 2161.3 2182.3 2287.4 2413.6 2497.7 2518.7 2535.5" y="1399.3">DANKP..........GNQYQASTLHSIHNPPCAVRENI</text>
<text fill="#fff" x="332.3 353.4 374.4 395.4 416.4 437.4 458.5 479.5 496.2 542.6 563.6 580.3 605.6 626.6 647.7 710.7 731.8 752.8 773.8 1089.1 1131.2 1173.2 1194.3 1215.3 1236.3 1257.3 1278.4 1299.4 1320.4 1341.4 1383.5 1425.5 1446.5 1467.6 1488.6 1509.6 1530.6 1551.6 1572.7 1593.7 1635.7 1656.8 1677.8 1698.8 1740.9 1782.9 1803.9 1824.9 1846 1867 1930.1 1951.1 1993.1 2035.2 2098.2 2140.3 2203.4 2224.4 2245.4 2266.4 2308.5 2329.5 2350.5 2371.5 2392.6 2434.6 2455.6 2476.6 2560.7 2581.8 2602.8 2623.8" y="1436.1">LTCDSDGKIKFIGGELPLHGYLGNFLGGAYELGGVHNLFGPSVVVQSDGPFATAGSDVLRNQHEPLNFKHRA</text>
<text fill="#000" x="521.5 668.7 689.7 794.8 815.9 836.9 857.9 878.9 899.9 921 942 963 984 1005.1 1026.1 1047.1 1068.1 1110.2 1152.2 1362.4 1404.5 1614.7 1719.8 1761.9 1888 1909 1972.1 2014.1 2056.2 2077.2 2119.3 2161.3 2182.3 2287.4 2413.6 2497.7 2518.7 2539.7" y="1436.1">NSSELDKNG......SGRFEAGRSHSVRVPCSAAEQTL</text>
<text fill="#fff" x="332.3 353.4 374.4 395.4 416.4 437.4 458.5 479.5 496.2 542.6 563.6 580.3 605.6 626.6 647.7 710.7 731.8 752.8 773.8 1089.1 1131.2 1173.2 1194.3 1215.3 1236.3 1257.3 1278.4 1299.4 1320.4 1341.4 1383.5 1425.5 1446.5 1467.6 1488.6 1509.6 1530.6 1551.6 1572.7 1593.7 1635.7 1656.8 1677.8 1698.8 1740.9 1782.9 1803.9 1824.9 1846 1867 1930.1 1951.1 1993.1 2035.2 2098.2 2140.3 2203.4 2224.4 2245.4 2266.4 2308.5 2329.5 2350.5 2371.5 2392.6 2434.6 2455.6 2476.6 2560.7 2581.8 2602.8 2623.8" y="1472.9">LTCDSDGKIKFIGGELPLHGYLGNFLGGAYELGGVHNLFGPSVVVQSDGPFATAGSDVLRNQHEPLNFKHRA</text>
<text fill="#000" x="521.5 668.7 689.7 794.8 815.9 836.9 857.9 878.9 899.9 921 942 963 984 1005.1 1026.1 1047.1 1068.1 1110.2 1152.2 1362.4 1404.5 1614.7 1719.8 1761.9 1888 1909 1972.1 2014.1 2056.2 2077.2 2119.3 2161.3 2182.3 2287.4 2413.6 2497.7 2518.7 2539.7" y="1472.9">NSSENDNNGC.....SGRYEAGRLHGVRVNCSAAEQTL</text>
<text fill="#fff" x="332.3 353.4 374.4 395.4 416.4 437.4 458.5 479.5 496.2 542.6 563.6 580.3 605.6 626.6 647.7 710.7 731.8 752.8 773.8 1089.1 1131.2 1173.2 1194.3 1215.3 1236.3 1257.3 1278.4 1299.4 1320.4 1341.4 1383.5 1425.5 1446.5 1467.6 1488.6 1509.6 1530.6 1551.6 1572.7 1593.7 1635.7 1656.8 1677.8 1698.8 1740.9 1782.9 1803.9 1824.9 1846 1867 1930.1 1951.1 1993.1 2035.2 2098.2 2140.3 2203.4 2224.4 2245.4 2266.4 2308.5 2329.5 2350.5 2371.5 2392.6 2434.6 2455.6 2476.6 2560.7 2581.8 2602.8 2623.8" y="1509.7">LTCDSDGKIKFIGGELPLHGYLGNFLGGAYELGGVHNLFGPSVVVQSDGPFATAGSDVLRNQHEPLNFKHRA</text>
<text fill="#000" x="521.5 668.7 689.7 794.8 815.9 836.9 857.9 878.9 899.9 921 942 963 984 1005.1 1026.1 1047.1 1068.1 1110.2 1152.2 1362.4 1404.5 1614.7 1719.8 1761.9 1888 1909 1972.1 2014.1 2056.2 2077.2 2119.3 2161.3 2182.3 2287.4 2413.6 2497.7 2518.7 2539.7" y="1509.7">DTSGLEGNGGGSSGGANRYQSGSSYSVRAPPCGVEETL</text>
<text fill="#000" x="332.3 353.4 374.4 395.4 416.4 437.4 458.5 479.5 500.5 542.6 563.6 584.6 605.6 626.6 647.7 710.7 731.8 752.8 773.8 1089.1 1131.2 1173.2 1194.3 1215.3 1236.3 1257.3 1278.4 1299.4 1320.4 1341.4 1383.5 1425.5 1446.5 1467.6 1488.6 1509.6 1530.6 1551.6 1572.7 1593.7 1635.7 1656.8 1677.8 1698.8 1740.9 1782.9 1803.9 1824.9 1846 1867 1930.1 1951.1 1993.1 2035.2 2098.2 2140.3 2203.4 2224.4 2245.4 2266.4 2308.5 2329.5 2350.5 2371.5 2392.6 2434.6 2455.6 2476.6 2560.7 2581.8 2602.8 2623.8" y="1546.5">ltcdsdgkikfiggelplhgylgnflggayelggvhnlfgpsvvvqsdgpfatagsdvlrnqheplnfkhra</text>
<text fill="#fff" x="332.3 353.4 1005.1 1026.1 1068.1 1089.1 1110.2 1131.2 1152.2 1446.5 1509.6 1551.6 1593.7 1614.7 1635.7 1677.8" y="1620.6">EESFNNPYLANGYYCE</text>
<text fill="#000" x="374.4 395.4 416.4 433.2 458.5 479.5 500.5 521.5 542.6 563.6 584.6 605.6 626.6 647.7 668.7 689.7 710.7 731.8 752.8 773.8 794.8 815.9 836.9 857.9 878.9 899.9 921 942 963 984 1047.1 1173.2 1194.3 1215.3 1236.3 1257.3 1278.4 1299.4 1320.4 1341.4 1362.4 1383.5 1404.5 1425.5 1467.6 1488.6 1530.6 1572.7 1656.8 1698.8 1719.8 1740.9 1761.9 1782.9 1803.9 1824.9 1846 1867 1888 1909 1930.1 1951.1 1972.1 1993.1 2014.1 2035.2 2056.2 2077.2 2098.2 2119.3" y="1620.6">FCGIDAG..............SCLASAVARHEPGSS....CSLTNNGFNEDYYAGSETGANEDEHVSYCF</text>
<text fill="#fff" x="332.3 353.4 1005.1 1026.1 1068.1 1089.1 1110.2 1131.2 1152.2 1446.5 1509.6 1551.6 1593.7 1614.7 1635.7 1677.8" y="1657.4">EESFNNPYLANGYYCE</text>
<text fill="#000" x="374.4 395.4 416.4 433.2 458.5 479.5 500.5 521.5 542.6 563.6 584.6 605.6 626.6 647.7 668.7 689.7 710.7 731.8 752.8 773.8 794.8 815.9 836.9 857.9 878.9 899.9 921 942 963 984 1047.1 1173.2 1194.3 1215.3 1236.3 1257.3 1278.4 1299.4 1320.4 1341.4 1362.4 1383.5 1404.5 1425.5 1467.6 1488.6 1530.6 1572.7 1656.8 1698.8 1719.8 1740.9 1761.9 1782.9 1803.9 1824.9 1846 1867 1888 1909 1930.1 1951.1 1972.1 1993.1 2014.1 2035.2 2056.2 2077.2 2098.2 2119.3" y="1657.4">FCGIDAG..............SCLASAVARHEPGSS....CSLTNNGFNEDYYKGSETGANEDDHVSYCF</text>
<text fill="#fff" x="332.3 353.4 1005.1 1026.1 1068.1 1089.1 1110.2 1131.2 1152.2 1446.5 1509.6 1551.6 1593.7 1614.7 1635.7 1677.8" y="1694.2">EESFNNPYLANGYYCE</text>
<text fill="#000" x="374.4 395.4 416.4 437.4 458.5 479.5 500.5 521.5 542.6 563.6 584.6 605.6 626.6 647.7 668.7 689.7 710.7 731.8 752.8 773.8 794.8 815.9 836.9 857.9 878.9 899.9 921 942 963 984 1047.1 1173.2 1194.3 1215.3 1236.3 1257.3 1278.4 1299.4 1320.4 1341.4 1362.4 1383.5 1404.5 1425.5 1463.3 1488.6 1530.6 1572.7 1656.8 1698.8 1719.8 1740.9 1761.9 1782.9 1799.7 1824.9 1846 1867 1888 1909 1930.1 1951.1 1972.1 1993.1 2014.1 2035.2 2056.2 2077.2 2098.2 2119.3" y="1694.2">NNHTKGGSEGENEEEEEDDEFNNVAASLDRHATEQASPSNSLSAISLFDDVYDYI...SA..........</text>
<text fill="#fff" x="332.3 353.4 1005.1 1026.1 1068.1 1089.1 1110.2 1131.2 1152.2 1446.5 1509.6 1551.6 1593.7 1614.7 1635.7 1677.8" y="1731">EESFNNPYLANGYYCE</text>
<text fill="#000" x="374.4 395.4 416.4 437.4 458.5 479.5 500.5 521.5 542.6 563.6 584.6 605.6 626.6 647.7 668.7 689.7 710.7 731.8 752.8 773.8 794.8 815.9 836.9 857.9 878.9 899.9 921 942 963 984 1047.1 1173.2 1194.3 1215.3 1236.3 1257.3 1278.4 1299.4 1320.4 1341.4 1362.4 1383.5 1404.5 1425.5 1467.6 1488.6 1530.6 1572.7 1656.8 1698.8 1719.8 1740.9 1761.9 1782.9 1803.9 1824.9 1846 1867 1888 1909 1930.1 1951.1 1972.1 1993.1 2014.1 2035.2 2056.2 2077.2 2098.2 2119.3" y="1731">PRNNNNKACGDKGNDK.....LVVASCLAKNSNETS..TNALTAVNLVDAAAGGG...GKGKDENVSYFG</text>
<text fill="#fff" x="332.3 353.4 1005.1 1026.1 1068.1 1089.1 1110.2 1131.2 1152.2 1446.5 1509.6 1551.6 1593.7 1614.7 1635.7 1677.8" y="1767.8">EESFNNPYLANGYYCE</text>
<text fill="#000" x="374.4 395.4 416.4 437.4 458.5 479.5 500.5 521.5 542.6 563.6 584.6 605.6 626.6 647.7 668.7 689.7 710.7 731.8 752.8 773.8 794.8 815.9 836.9 857.9 878.9 899.9 921 937.7 963 984 1047.1 1173.2 1194.3 1215.3 1236.3 1257.3 1278.4 1299.4 1320.4 1341.4 1362.4 1383.5 1404.5 1425.5 1467.6 1488.6 1530.6 1572.7 1656.8 1698.8 1719.8 1740.9 1761.9 1782.9 1803.9 1824.9 1846 1867 1888 1909 1930.1 1951.1 1972.1 1993.1 2014.1 2035.2 2056.2 2077.2 2098.2 2119.3" y="1767.8">FCGCDHGNEGTH.........AALVSTIARHVAASP....CSLTNNNFNEDYNAAVDSGASEDECVSYCY</text>
<text fill="#000" x="332.3 353.4 1005.1 1026.1 1068.1 1089.1 1110.2 1131.2 1152.2 1446.5 1509.6 1551.6 1593.7 1614.7 1635.7 1677.8" y="1804.6">eesfnnpylangyyce</text>
</g>
<g font-family="Liberation Sans, Arial, sans-serif" font-size="25" font-weight="bold" fill="#000">
<text x="119" y="72">GhADC2</text>
<text x="119" y="108.8">GaADC2</text>
<text x="119" y="145.6">AtADC2</text>
<text x="119" y="182.4">AtADC1</text>
<text x="119" y="219.2">GhADC1</text>
<text x="119" y="256">Consensus</text>
<text x="2381" y="72" text-anchor="middle">109</text>
<text x="2381" y="108.8" text-anchor="middle">109</text>
<text x="2381" y="145.6" text-anchor="middle">95</text>
<text x="2381" y="182.4" text-anchor="middle">87</text>
<text x="2381" y="219.2" text-anchor="middle">102</text>
<text x="119" y="330.1">GhADC2</text>
<text x="119" y="366.9">GaADC2</text>
<text x="119" y="403.7">AtADC2</text>
<text x="119" y="440.5">AtADC1</text>
<text x="119" y="477.3">GhADC1</text>
<text x="119" y="514.1">Consensus</text>
<text x="2381" y="330.1" text-anchor="middle">219</text>
<text x="2381" y="366.9" text-anchor="middle">219</text>
<text x="2381" y="403.7" text-anchor="middle">205</text>
<text x="2381" y="440.5" text-anchor="middle">194</text>
<text x="2381" y="477.3" text-anchor="middle">212</text>
<text x="119" y="588.2">GhADC2</text>
<text x="119" y="625">GaADC2</text>
<text x="119" y="661.8">AtADC2</text>
<text x="119" y="698.6">AtADC1</text>
<text x="119" y="735.4">GhADC1</text>
<text x="119" y="772.2">Consensus</text>
<text x="2381" y="588.2" text-anchor="middle">329</text>
<text x="2381" y="625" text-anchor="middle">329</text>
<text x="2381" y="661.8" text-anchor="middle">315</text>
<text x="2381" y="698.6" text-anchor="middle">304</text>
<text x="2381" y="735.4" text-anchor="middle">322</text>
<text x="119" y="846.3">GhADC2</text>
<text x="119" y="883.1">GaADC2</text>
<text x="119" y="919.9">AtADC2</text>
<text x="119" y="956.7">AtADC1</text>
<text x="119" y="993.5">GhADC1</text>
<text x="119" y="1030.3">Consensus</text>
<text x="2381" y="846.3" text-anchor="middle">436</text>
<text x="2381" y="883.1" text-anchor="middle">436</text>
<text x="2381" y="919.9" text-anchor="middle">424</text>
<text x="2381" y="956.7" text-anchor="middle">411</text>
<text x="2381" y="993.5" text-anchor="middle">432</text>
<text x="119" y="1104.4">GhADC2</text>
<text x="119" y="1141.2">GaADC2</text>
<text x="119" y="1178">AtADC2</text>
<text x="119" y="1214.8">AtADC1</text>
<text x="119" y="1251.6">GhADC1</text>
<text x="119" y="1288.4">Consensus</text>
<text x="2381" y="1104.4" text-anchor="middle">546</text>
<text x="2381" y="1141.2" text-anchor="middle">546</text>
<text x="2381" y="1178" text-anchor="middle">534</text>
<text x="2381" y="1214.8" text-anchor="middle">521</text>
<text x="2381" y="1251.6" text-anchor="middle">542</text>
<text x="119" y="1362.5">GhADC2</text>
<text x="119" y="1399.3">GaADC2</text>
<text x="119" y="1436.1">AtADC2</text>
<text x="119" y="1472.9">AtADC1</text>
<text x="119" y="1509.7">GhADC1</text>
<text x="119" y="1546.5">Consensus</text>
<text x="2381" y="1362.5" text-anchor="middle">646</text>
<text x="2381" y="1399.3" text-anchor="middle">646</text>
<text x="2381" y="1436.1" text-anchor="middle">638</text>
<text x="2381" y="1472.9" text-anchor="middle">626</text>
<text x="2381" y="1509.7" text-anchor="middle">652</text>
<text x="119" y="1620.6">GhADC2</text>
<text x="119" y="1657.4">GaADC2</text>
<text x="119" y="1694.2">AtADC2</text>
<text x="119" y="1731">AtADC1</text>
<text x="119" y="1767.8">GhADC1</text>
<text x="119" y="1804.6">Consensus</text>
<text x="2381" y="1620.6" text-anchor="middle">714</text>
<text x="2381" y="1657.4" text-anchor="middle">714</text>
<text x="2381" y="1694.2" text-anchor="middle">711</text>
<text x="2381" y="1731" text-anchor="middle">702</text>
<text x="2381" y="1767.8" text-anchor="middle">725</text>
</g>
<rect x="1096" y="523" width="427" height="12" fill="#ff0000"/>
<rect x="450" y="1040" width="259" height="11" fill="#000"/>
</g>
<g fill="#000">
<rect x="260.2" y="1911.5" width="6" height="457"/>
<rect x="260.2" y="2362.5" width="2141.8" height="6"/>
<rect x="263.2" y="2362.5" width="15" height="6"/>
<rect x="263.2" y="2249.8" width="15" height="6"/>
<rect x="263.2" y="2137.1" width="15" height="6"/>
<rect x="263.2" y="2024.4" width="15" height="6"/>
<rect x="263.2" y="1911.7" width="15" height="6"/>
<rect x="386.8" y="2353.5" width="6" height="12"/>
<rect x="512.4" y="2353.5" width="6" height="12"/>
<rect x="638" y="2353.5" width="6" height="12"/>
<rect x="763.6" y="2353.5" width="6" height="12"/>
<rect x="889.2" y="2353.5" width="6" height="12"/>
<rect x="1014.8" y="2353.5" width="6" height="12"/>
<rect x="1140.4" y="2353.5" width="6" height="12"/>
<rect x="1266" y="2353.5" width="6" height="12"/>
<rect x="1391.6" y="2353.5" width="6" height="12"/>
<rect x="1517.2" y="2353.5" width="6" height="12"/>
<rect x="1642.8" y="2353.5" width="6" height="12"/>
<rect x="1768.4" y="2353.5" width="6" height="12"/>
<rect x="1894" y="2353.5" width="6" height="12"/>
<rect x="2019.6" y="2353.5" width="6" height="12"/>
<rect x="2145.2" y="2353.5" width="6" height="12"/>
<rect x="2270.8" y="2353.5" width="6" height="12"/>
<rect x="2396.4" y="2353.5" width="6" height="12"/>
<rect x="307.5" y="2310" width="39" height="55.5"/>
<rect x="323" y="2279.8" width="8" height="30.1"/><rect x="316" y="2278.8" width="22" height="7"/>
<rect x="433.1" y="2207.7" width="39" height="157.8"/>
<rect x="448.6" y="2190.3" width="8" height="17.5"/><rect x="441.6" y="2189.3" width="22" height="7"/>
<rect x="558.7" y="2281.5" width="39" height="84"/>
<rect x="574.2" y="2247.2" width="8" height="34.4"/><rect x="567.2" y="2246.2" width="22" height="7"/>
<rect x="684.3" y="2344.7" width="39" height="20.8"/>
<rect x="699.8" y="2343" width="8" height="1.7"/><rect x="692.8" y="2342" width="22" height="7"/>
<rect x="809.9" y="2326.1" width="39" height="39.4"/>
<rect x="825.4" y="2302.4" width="8" height="23.7"/><rect x="818.4" y="2301.4" width="22" height="7"/>
<rect x="935.5" y="2352" width="39" height="13.5"/>
<rect x="951" y="2337.9" width="8" height="14.1"/><rect x="944" y="2336.9" width="22" height="7"/>
<rect x="1061.1" y="2291.7" width="39" height="73.8"/>
<rect x="1076.6" y="2269.1" width="8" height="22.5"/><rect x="1069.6" y="2268.1" width="22" height="7"/>
<rect x="1186.7" y="2346.9" width="39" height="18.6"/>
<rect x="1202.2" y="2337.9" width="8" height="9"/><rect x="1195.2" y="2336.9" width="22" height="7"/>
<rect x="1312.3" y="2185.2" width="39" height="180.3"/>
<rect x="1327.8" y="2139" width="8" height="46.2"/><rect x="1320.8" y="2138" width="22" height="7"/>
<rect x="1437.9" y="2091.1" width="39" height="274.4"/>
<rect x="1453.4" y="2024.6" width="8" height="66.5"/><rect x="1446.4" y="2023.6" width="22" height="7"/>
<rect x="1563.5" y="2185.7" width="39" height="179.8"/>
<rect x="1579" y="2138.4" width="8" height="47.3"/><rect x="1572" y="2137.4" width="22" height="7"/>
<rect x="1689.1" y="2227.4" width="39" height="138.1"/>
<rect x="1704.6" y="2190.3" width="8" height="37.2"/><rect x="1697.6" y="2189.3" width="22" height="7"/>
<rect x="1814.7" y="2181.8" width="39" height="183.7"/>
<rect x="1830.2" y="2172.8" width="8" height="9"/><rect x="1823.2" y="2171.8" width="22" height="7"/>
<rect x="1940.3" y="2308" width="39" height="57.5"/>
<rect x="1955.8" y="2290.6" width="8" height="17.5"/><rect x="1948.8" y="2289.6" width="22" height="7"/>
<rect x="2065.9" y="2297.9" width="39" height="67.6"/>
<rect x="2081.4" y="2277" width="8" height="20.8"/><rect x="2074.4" y="2276" width="22" height="7"/>
<rect x="2191.5" y="2352.5" width="39" height="13"/>
<rect x="2207" y="2349.7" width="8" height="2.8"/><rect x="2200" y="2348.7" width="22" height="7"/>
<rect x="2317.1" y="2360.4" width="39" height="5.1"/>
</g>
<g font-family="Liberation Sans, Arial, sans-serif" font-size="64" text-anchor="middle" fill="#000" stroke="#000" stroke-width="1">
<text x="449.6" y="2172.8">*</text>
<text x="700.8" y="2312.8">*</text>
<text x="952" y="2316.8">*</text>
<text x="1203.2" y="2309.4">*</text>
<text x="1328.8" y="2127.8">*</text>
<text x="1454.4" y="1988.8">*</text>
<text x="1580" y="2112.3">*</text>
<text x="1705.6" y="2140.8">*</text>
<text x="1831.2" y="2147.3">*</text>
<text x="2208" y="2317.8">*</text>
<text x="2333.6" y="2329.8">*</text>
</g>
<g font-family="Liberation Sans, Arial, sans-serif" font-size="52" text-anchor="end" fill="#000" stroke="#000" stroke-width="1">
<text x="220.2" y="2379.6">0</text>
<text x="220.2" y="2266.9">2</text>
<text x="220.2" y="2154.2">4</text>
<text x="220.2" y="2041.5">6</text>
<text x="220.2" y="1928.8">8</text>
</g>
<g fill="#000">
<rect x="260.5" y="2631.2" width="6" height="534.3"/>
<rect x="260.5" y="3159.5" width="2149.5" height="6"/>
<rect x="263.5" y="3159.5" width="15" height="6"/>
<rect x="263.5" y="3027.4" width="15" height="6"/>
<rect x="263.5" y="2895.3" width="15" height="6"/>
<rect x="263.5" y="2763.3" width="15" height="6"/>
<rect x="263.5" y="2631.2" width="15" height="6"/>
<rect x="387.2" y="3150.5" width="6" height="12"/>
<rect x="513.2" y="3150.5" width="6" height="12"/>
<rect x="639.2" y="3150.5" width="6" height="12"/>
<rect x="765.2" y="3150.5" width="6" height="12"/>
<rect x="891.2" y="3150.5" width="6" height="12"/>
<rect x="1017.2" y="3150.5" width="6" height="12"/>
<rect x="1143.2" y="3150.5" width="6" height="12"/>
<rect x="1269.2" y="3150.5" width="6" height="12"/>
<rect x="1395.2" y="3150.5" width="6" height="12"/>
<rect x="1521.2" y="3150.5" width="6" height="12"/>
<rect x="1647.2" y="3150.5" width="6" height="12"/>
<rect x="1773.2" y="3150.5" width="6" height="12"/>
<rect x="1899.2" y="3150.5" width="6" height="12"/>
<rect x="2025.2" y="3150.5" width="6" height="12"/>
<rect x="2151.2" y="3150.5" width="6" height="12"/>
<rect x="2277.2" y="3150.5" width="6" height="12"/>
<rect x="2403.2" y="3150.5" width="6" height="12"/>
<rect x="307.5" y="3098.1" width="39" height="64.4"/>
<rect x="323" y="3070.7" width="8" height="27.4"/><rect x="316" y="3069.7" width="22" height="7"/>
<rect x="433.5" y="3127.8" width="39" height="34.7"/>
<rect x="449" y="3116.3" width="8" height="11.6"/><rect x="442" y="3115.3" width="22" height="7"/>
<rect x="559.5" y="3155.9" width="39" height="6.6"/>
<rect x="685.5" y="3157.2" width="39" height="5.3"/>
<rect x="811.5" y="3157.2" width="39" height="5.3"/>
<rect x="937.5" y="3139.4" width="39" height="23.1"/>
<rect x="953" y="3122.9" width="8" height="16.5"/><rect x="946" y="3121.9" width="22" height="7"/>
<rect x="1063.5" y="3103.7" width="39" height="58.8"/>
<rect x="1079" y="3096.5" width="8" height="7.3"/><rect x="1072" y="3095.5" width="22" height="7"/>
<rect x="1189.5" y="3133.4" width="39" height="29.1"/>
<rect x="1205" y="3110.3" width="8" height="23.1"/><rect x="1198" y="3109.3" width="22" height="7"/>
<rect x="1315.5" y="2998.1" width="39" height="164.4"/>
<rect x="1331" y="2949.2" width="8" height="48.9"/><rect x="1324" y="2948.2" width="22" height="7"/>
<rect x="1441.5" y="2840.9" width="39" height="321.6"/>
<rect x="1457" y="2727.3" width="8" height="113.6"/><rect x="1450" y="2726.3" width="22" height="7"/>
<rect x="1567.5" y="3071.4" width="39" height="91.1"/>
<rect x="1583" y="3044.9" width="8" height="26.4"/><rect x="1576" y="3043.9" width="22" height="7"/>
<rect x="1693.5" y="3071.4" width="39" height="91.1"/>
<rect x="1709" y="3014.6" width="8" height="56.8"/><rect x="1702" y="3013.6" width="22" height="7"/>
<rect x="1819.5" y="3004.7" width="39" height="157.8"/>
<rect x="1835" y="2980.2" width="8" height="24.4"/><rect x="1828" y="2979.2" width="22" height="7"/>
<rect x="1945.5" y="3087.9" width="39" height="74.6"/>
<rect x="1961" y="3063.4" width="8" height="24.4"/><rect x="1954" y="3062.4" width="22" height="7"/>
<rect x="2071.5" y="3154.6" width="39" height="7.9"/>
<rect x="2087" y="3149.3" width="8" height="5.3"/><rect x="2080" y="3148.3" width="22" height="7"/>
<rect x="2197.5" y="3155.9" width="39" height="6.6"/>
<rect x="2213" y="3153.3" width="8" height="2.6"/><rect x="2206" y="3152.3" width="22" height="7"/>
</g>
<g font-family="Liberation Sans, Arial, sans-serif" font-size="64" text-anchor="middle" fill="#000" stroke="#000" stroke-width="1">
<text x="576" y="3125.8">*</text>
<text x="702" y="3125.8">*</text>
<text x="828" y="3125.8">*</text>
<text x="954" y="3102.8">*</text>
<text x="1332" y="2899.8">*</text>
<text x="1458" y="2676.8">*</text>
<text x="1584" y="3036.8">*</text>
<text x="1836" y="2970.8">*</text>
<text x="2088" y="3119.8">*</text>
<text x="2214" y="3121.8">*</text>
<text x="2340" y="3129.8">*</text>
</g>
<g font-family="Liberation Sans, Arial, sans-serif" font-size="52" text-anchor="end" fill="#000" stroke="#000" stroke-width="1">
<text x="220.2" y="3176.6">0</text>
<text x="220.2" y="3044.5">2</text>
<text x="220.2" y="2912.4">4</text>
<text x="220.2" y="2780.4">6</text>
<text x="220.2" y="2648.3">8</text>
</g>
<g font-family="Liberation Sans, Arial, sans-serif" font-weight="bold" font-style="italic" font-size="67" fill="#000">
<text x="370" y="1958">GaADC2</text>
<text x="381" y="2669">GhADC2</text>
</g>
<text transform="translate(148.7 2157.5) rotate(-90)" text-anchor="middle" font-family="Liberation Sans, Arial, sans-serif" font-size="56.5" font-weight="normal" fill="#000" stroke="#000" stroke-width="1">Relative expression</text>
<text transform="translate(138.5 2884) rotate(-90)" text-anchor="middle" font-family="Liberation Sans, Arial, sans-serif" font-size="56.5" font-weight="normal" fill="#000" stroke="#000" stroke-width="1">Relative expression</text>
<g font-family="Liberation Sans, Arial, sans-serif" font-size="53" text-anchor="end" fill="#000" word-spacing="-6" stroke="#000" stroke-width="1">
<text transform="translate(335 2431) rotate(-45)">Root</text>
<text transform="translate(460.6 2431) rotate(-45)">Stem</text>
<text transform="translate(586.2 2431) rotate(-45)">Leaf</text>
<text transform="translate(711.8 2431) rotate(-45)">Flower</text>
<text transform="translate(837.4 2431) rotate(-45)">Pistil</text>
<text transform="translate(963 2431) rotate(-45)">Stamen</text>
<text transform="translate(1088.6 2431) rotate(-45)">−0.5 D</text>
<text transform="translate(1214.2 2431) rotate(-45)">0 D</text>
<text transform="translate(1339.8 2431) rotate(-45)">1 D</text>
<text transform="translate(1465.4 2431) rotate(-45)">3 D</text>
<text transform="translate(1591 2431) rotate(-45)">5 D</text>
<text transform="translate(1716.6 2431) rotate(-45)">10 D</text>
<text transform="translate(1842.2 2431) rotate(-45)">5 F</text>
<text transform="translate(1967.8 2431) rotate(-45)">10 F</text>
<text transform="translate(2093.4 2431) rotate(-45)">15 F</text>
<text transform="translate(2219 2431) rotate(-45)">20 F</text>
<text transform="translate(2344.6 2431) rotate(-45)">25 F</text>
<text transform="translate(335 3228) rotate(-45)">Root</text>
<text transform="translate(461 3228) rotate(-45)">Stem</text>
<text transform="translate(587 3228) rotate(-45)">Leaf</text>
<text transform="translate(713 3228) rotate(-45)">Flower</text>
<text transform="translate(839 3228) rotate(-45)">Pistil</text>
<text transform="translate(965 3228) rotate(-45)">Stamen</text>
<text transform="translate(1091 3228) rotate(-45)">−0.5 D</text>
<text transform="translate(1217 3228) rotate(-45)">0 D</text>
<text transform="translate(1343 3228) rotate(-45)">1 D</text>
<text transform="translate(1469 3228) rotate(-45)">3 D</text>
<text transform="translate(1595 3228) rotate(-45)">5 D</text>
<text transform="translate(1721 3228) rotate(-45)">10 D</text>
<text transform="translate(1847 3228) rotate(-45)">5 F</text>
<text transform="translate(1973 3228) rotate(-45)">10 F</text>
<text transform="translate(2099 3228) rotate(-45)">15 F</text>
<text transform="translate(2225 3228) rotate(-45)">20 F</text>
<text transform="translate(2351 3228) rotate(-45)">25 F</text>
</g>
<g fill="#000">
<rect x="258.5" y="3462.5" width="6" height="583.7"/>
<rect x="258.5" y="4040.2" width="586.5" height="6"/>
<rect x="261.5" y="4040.2" width="10" height="6"/>
<rect x="261.5" y="3943.9" width="10" height="6"/>
<rect x="261.5" y="3847.7" width="10" height="6"/>
<rect x="261.5" y="3751.4" width="10" height="6"/>
<rect x="261.5" y="3655.2" width="10" height="6"/>
<rect x="261.5" y="3558.9" width="10" height="6"/>
<rect x="261.5" y="3462.6" width="10" height="6"/>
<rect x="375.7" y="4033.2" width="6" height="10"/>
<rect x="492" y="4033.2" width="6" height="10"/>
<rect x="608.3" y="4033.2" width="6" height="10"/>
<rect x="724.6" y="4033.2" width="6" height="10"/>
<rect x="840.9" y="4033.2" width="6" height="10"/>
<rect x="302.5" y="3806.4" width="36" height="236.8"/>
<rect x="317.5" y="3801.6" width="6" height="4.8"/><rect x="313" y="3800.6" width="15" height="5"/>
<rect x="418.8" y="3739" width="36" height="304.2"/>
<rect x="433.8" y="3730.4" width="6" height="8.7"/><rect x="429.3" y="3729.4" width="15" height="5"/>
<rect x="535.1" y="3593.7" width="36" height="449.5"/>
<rect x="550.1" y="3575.4" width="6" height="18.3"/><rect x="545.6" y="3574.4" width="15" height="5"/>
<rect x="651.4" y="3774.6" width="36" height="268.6"/>
<rect x="666.4" y="3755.4" width="6" height="19.3"/><rect x="661.9" y="3754.4" width="15" height="5"/>
<rect x="767.7" y="3796.8" width="36" height="246.4"/>
<rect x="782.7" y="3790" width="6" height="6.7"/><rect x="778.2" y="3789" width="15" height="5"/>
</g>
<g font-family="Liberation Sans, Arial, sans-serif" font-size="54" text-anchor="middle" fill="#000" stroke="#000" stroke-width="1">
<text x="433.8" y="3715.7">*</text>
<text x="550.1" y="3569.3">*</text>
</g>
<g font-family="Liberation Sans, Arial, sans-serif" font-size="42" text-anchor="end" fill="#000" stroke="#000" stroke-width="1">
<text x="219.6" y="4053.8">0</text>
<text x="219.6" y="3957.5">10</text>
<text x="219.6" y="3861.2">20</text>
<text x="219.6" y="3765">30</text>
<text x="219.6" y="3668.7">40</text>
<text x="219.6" y="3572.5">50</text>
<text x="219.6" y="3476.2">60</text>
</g>
<g font-family="Liberation Sans, Arial, sans-serif" font-size="42" text-anchor="middle" fill="#000" word-spacing="-3" stroke="#000" stroke-width="1">
<text x="320.5" y="4102.3">0 D</text>
<text x="436.8" y="4102.3">1 D</text>
<text x="553.1" y="4102.3">3 D</text>
<text x="669.4" y="4102.3">5 D</text>
<text x="785.7" y="4102.3">10 D</text>
</g>
<g fill="#000">
<rect x="1054" y="3462" width="6" height="580.4"/>
<rect x="1054" y="4036.4" width="583" height="6"/>
<rect x="1057" y="4036.4" width="10" height="6"/>
<rect x="1057" y="3954.3" width="10" height="6"/>
<rect x="1057" y="3872.3" width="10" height="6"/>
<rect x="1057" y="3790.2" width="10" height="6"/>
<rect x="1057" y="3708.1" width="10" height="6"/>
<rect x="1057" y="3626.1" width="10" height="6"/>
<rect x="1057" y="3544" width="10" height="6"/>
<rect x="1057" y="3461.9" width="10" height="6"/>
<rect x="1169" y="4029.4" width="6" height="10"/>
<rect x="1285" y="4029.4" width="6" height="10"/>
<rect x="1401" y="4029.4" width="6" height="10"/>
<rect x="1517" y="4029.4" width="6" height="10"/>
<rect x="1633" y="4029.4" width="6" height="10"/>
<rect x="1096" y="3655.6" width="36" height="383.8"/>
<rect x="1111" y="3642.2" width="6" height="13.5"/><rect x="1106.5" y="3641.2" width="15" height="5"/>
<rect x="1212" y="3569.6" width="36" height="469.8"/>
<rect x="1227" y="3557.2" width="6" height="12.5"/><rect x="1222.5" y="3556.2" width="15" height="5"/>
<rect x="1328" y="3614.9" width="36" height="424.5"/>
<rect x="1343" y="3602.5" width="6" height="12.5"/><rect x="1338.5" y="3601.5" width="15" height="5"/>
<rect x="1444" y="3873.9" width="36" height="165.5"/>
<rect x="1459" y="3870" width="6" height="3.9"/><rect x="1454.5" y="3869" width="15" height="5"/>
<rect x="1560" y="3925" width="36" height="114.4"/>
<rect x="1575" y="3916.6" width="6" height="8.4"/><rect x="1570.5" y="3915.6" width="15" height="5"/>
</g>
<g font-family="Liberation Sans, Arial, sans-serif" font-size="54" text-anchor="middle" fill="#000" stroke="#000" stroke-width="1">
<text x="1227" y="3544.2">*</text>
<text x="1459" y="3850.7">*</text>
<text x="1575" y="3899.2">*</text>
</g>
<g font-family="Liberation Sans, Arial, sans-serif" font-size="42" text-anchor="end" fill="#000" stroke="#000" stroke-width="1">
<text x="1013.6" y="4050">0</text>
<text x="1013.6" y="3967.9">50</text>
<text x="1013.6" y="3885.8">100</text>
<text x="1013.6" y="3803.8">150</text>
<text x="1013.6" y="3721.7">200</text>
<text x="1013.6" y="3639.6">250</text>
<text x="1013.6" y="3557.5">300</text>
<text x="1013.6" y="3475.5">350</text>
</g>
<g font-family="Liberation Sans, Arial, sans-serif" font-size="42" text-anchor="middle" fill="#000" word-spacing="-3" stroke="#000" stroke-width="1">
<text x="1114" y="4099.5">0 D</text>
<text x="1230" y="4099.5">1 D</text>
<text x="1346" y="4099.5">3 D</text>
<text x="1462" y="4099.5">5 D</text>
<text x="1578" y="4099.5">10 D</text>
</g>
<g fill="#000">
<rect x="1824" y="3464.7" width="6" height="580.3"/>
<rect x="1824" y="4039" width="591" height="6"/>
<rect x="1827" y="4039" width="10" height="6"/>
<rect x="1827" y="3967.3" width="10" height="6"/>
<rect x="1827" y="3895.6" width="10" height="6"/>
<rect x="1827" y="3824" width="10" height="6"/>
<rect x="1827" y="3752.3" width="10" height="6"/>
<rect x="1827" y="3680.6" width="10" height="6"/>
<rect x="1827" y="3608.9" width="10" height="6"/>
<rect x="1827" y="3537.2" width="10" height="6"/>
<rect x="1827" y="3465.6" width="10" height="6"/>
<rect x="1939.5" y="4032" width="6" height="10"/>
<rect x="2057.1" y="4032" width="6" height="10"/>
<rect x="2174.7" y="4032" width="6" height="10"/>
<rect x="2292.3" y="4032" width="6" height="10"/>
<rect x="2409.9" y="4032" width="6" height="10"/>
<rect x="1865.7" y="3586.1" width="36" height="455.9"/>
<rect x="1880.7" y="3567.5" width="6" height="18.6"/><rect x="1876.2" y="3566.5" width="15" height="5"/>
<rect x="1983.3" y="3510.1" width="36" height="531.9"/>
<rect x="1998.3" y="3500.1" width="6" height="10"/><rect x="1993.8" y="3499.1" width="15" height="5"/>
<rect x="2100.9" y="3764.6" width="36" height="277.4"/>
<rect x="2115.9" y="3751.7" width="6" height="12.9"/><rect x="2111.4" y="3750.7" width="15" height="5"/>
<rect x="2218.5" y="3945.2" width="36" height="96.8"/>
<rect x="2233.5" y="3942.4" width="6" height="2.9"/><rect x="2229" y="3941.4" width="15" height="5"/>
<rect x="2336.1" y="3989.4" width="36" height="52.6"/>
<rect x="2351.1" y="3985.4" width="6" height="4"/><rect x="2346.6" y="3984.4" width="15" height="5"/>
</g>
<g font-family="Liberation Sans, Arial, sans-serif" font-size="54" text-anchor="middle" fill="#000" stroke="#000" stroke-width="1">
<text x="1998.3" y="3484.2">*</text>
<text x="2115.9" y="3740.7">*</text>
<text x="2233.5" y="3922.2">*</text>
<text x="2351.1" y="3966.7">*</text>
</g>
<g font-family="Liberation Sans, Arial, sans-serif" font-size="42" text-anchor="end" fill="#000" stroke="#000" stroke-width="1">
<text x="1782" y="4052.6">0</text>
<text x="1782" y="3980.9">10</text>
<text x="1782" y="3909.2">20</text>
<text x="1782" y="3837.5">30</text>
<text x="1782" y="3765.8">40</text>
<text x="1782" y="3694.2">50</text>
<text x="1782" y="3622.5">60</text>
<text x="1782" y="3550.8">70</text>
<text x="1782" y="3479.1">80</text>
</g>
<g font-family="Liberation Sans, Arial, sans-serif" font-size="42" text-anchor="middle" fill="#000" word-spacing="-3" stroke="#000" stroke-width="1">
<text x="1883.7" y="4102.8">0 D</text>
<text x="2001.3" y="4102.8">1 D</text>
<text x="2118.9" y="4102.8">3 D</text>
<text x="2236.5" y="4102.8">5 D</text>
<text x="2354.1" y="4102.8">10 D</text>
</g>
<text transform="translate(140.4 3757) rotate(-90)" text-anchor="middle" font-family="Liberation Sans, Arial, sans-serif" font-size="41.3" font-weight="normal" fill="#000" stroke="#000" stroke-width="1">Put (µg/g FW)</text>
<text transform="translate(916 3753.4) rotate(-90)" text-anchor="middle" font-family="Liberation Sans, Arial, sans-serif" font-size="41" font-weight="normal" fill="#000" stroke="#000" stroke-width="1">Spd (µg/g FW)</text>
<text transform="translate(1701.5 3756.5) rotate(-90)" text-anchor="middle" font-family="Liberation Sans, Arial, sans-serif" font-size="41" font-weight="normal" fill="#000" stroke="#000" stroke-width="1">Spm (µg/g FW)</text>
<g font-family="Liberation Sans, Arial, sans-serif" font-weight="bold" fill="#000">
<text transform="translate(32 70) scale(0.93 1)" font-size="81">a</text>
<text x="30" y="1911" font-size="75">b</text>
<text x="35" y="2625" font-size="75">c</text>
<text x="62" y="3476.7" font-size="75">d</text>
<text x="853" y="3465" font-size="75">e</text>
<text x="1653" y="3470.6" font-size="75">f</text>
</g>
</svg></body></html>
